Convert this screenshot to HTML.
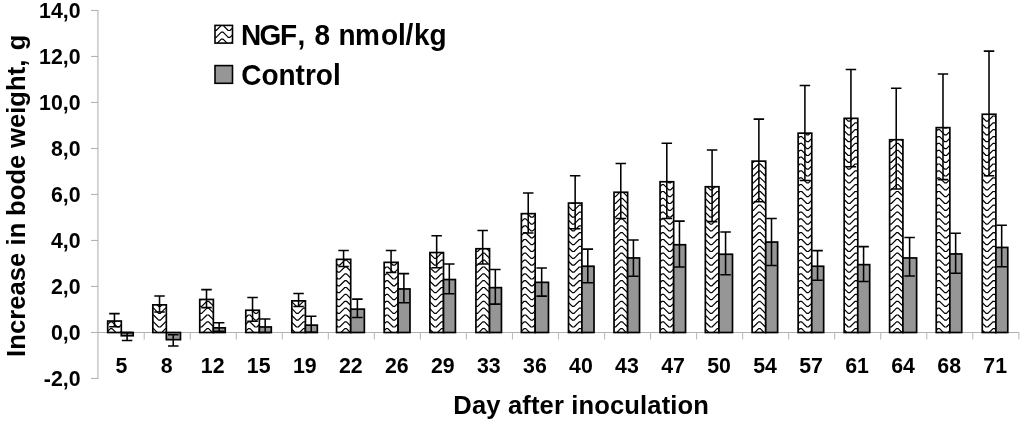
<!DOCTYPE html>
<html><head><meta charset="utf-8"><title>chart</title>
<style>html,body{margin:0;padding:0;background:#fff;}body{width:1024px;height:422px;overflow:hidden;}svg{display:block;will-change:transform;filter:blur(0.4px);}text{font-family:"Liberation Sans",sans-serif;font-weight:bold;fill:#000;}</style>
</head><body>
<svg width="1024" height="422" viewBox="0 0 1024 422">
<defs>
</defs>
<rect width="1024" height="422" fill="#fff"/>
<line x1="97.9" y1="9.9" x2="97.9" y2="378.9" stroke="#d2d2d2" stroke-width="1.9"/>
<g stroke="#b4b4b4" stroke-width="1.1" fill="none">
<line x1="91" y1="10.45" x2="98" y2="10.45"/>
<line x1="91" y1="56.45" x2="98" y2="56.45"/>
<line x1="91" y1="102.45" x2="98" y2="102.45"/>
<line x1="91" y1="148.45" x2="98" y2="148.45"/>
<line x1="91" y1="194.45" x2="98" y2="194.45"/>
<line x1="91" y1="240.45" x2="98" y2="240.45"/>
<line x1="91" y1="286.45" x2="98" y2="286.45"/>
<line x1="91" y1="332.45" x2="98" y2="332.45"/>
<line x1="91" y1="378.45" x2="98" y2="378.45"/>
<line x1="98" y1="332.45" x2="1019.2" y2="332.45" stroke="#b0b0b0"/>
<line x1="144.23" y1="332.50" x2="144.23" y2="339.50" stroke="#bcbcbc"/>
<line x1="190.26" y1="332.50" x2="190.26" y2="339.50" stroke="#bcbcbc"/>
<line x1="236.29" y1="332.50" x2="236.29" y2="339.50" stroke="#bcbcbc"/>
<line x1="282.32" y1="332.50" x2="282.32" y2="339.50" stroke="#bcbcbc"/>
<line x1="328.35" y1="332.50" x2="328.35" y2="339.50" stroke="#bcbcbc"/>
<line x1="374.38" y1="332.50" x2="374.38" y2="339.50" stroke="#bcbcbc"/>
<line x1="420.41" y1="332.50" x2="420.41" y2="339.50" stroke="#bcbcbc"/>
<line x1="466.44" y1="332.50" x2="466.44" y2="339.50" stroke="#bcbcbc"/>
<line x1="512.47" y1="332.50" x2="512.47" y2="339.50" stroke="#bcbcbc"/>
<line x1="558.50" y1="332.50" x2="558.50" y2="339.50" stroke="#bcbcbc"/>
<line x1="604.53" y1="332.50" x2="604.53" y2="339.50" stroke="#bcbcbc"/>
<line x1="650.56" y1="332.50" x2="650.56" y2="339.50" stroke="#bcbcbc"/>
<line x1="696.59" y1="332.50" x2="696.59" y2="339.50" stroke="#bcbcbc"/>
<line x1="742.62" y1="332.50" x2="742.62" y2="339.50" stroke="#bcbcbc"/>
<line x1="788.65" y1="332.50" x2="788.65" y2="339.50" stroke="#bcbcbc"/>
<line x1="834.68" y1="332.50" x2="834.68" y2="339.50" stroke="#bcbcbc"/>
<line x1="880.71" y1="332.50" x2="880.71" y2="339.50" stroke="#bcbcbc"/>
<line x1="926.74" y1="332.50" x2="926.74" y2="339.50" stroke="#bcbcbc"/>
<line x1="972.77" y1="332.50" x2="972.77" y2="339.50" stroke="#bcbcbc"/>
<line x1="1018.80" y1="332.50" x2="1018.80" y2="339.50" stroke="#bcbcbc"/>
</g>
<clipPath id="c1"><rect x="107.70" y="321.05" width="13.60" height="11.45"/></clipPath>
<path d="M96.6,315.0L98.3,315.0L103.5,320.1L105.2,320.1L110.4,315.0L112.1,315.0L117.3,320.1L119.0,320.1L124.2,315.0L125.9,315.0L131.1,320.1L132.8,320.1M96.6,321.9L98.3,321.9L103.5,327.0L105.2,327.0L110.4,321.9L112.1,321.9L117.3,327.0L119.0,327.0L124.2,321.9L125.9,321.9L131.1,327.0L132.8,327.0M96.6,328.7L98.3,328.7L103.5,333.9L105.2,333.9L110.4,328.7L112.1,328.7L117.3,333.9L119.0,333.9L124.2,328.7L125.9,328.7L131.1,333.9L132.8,333.9M96.6,335.6L98.3,335.6L103.5,340.7L105.2,340.7L110.4,335.6L112.1,335.6L117.3,340.7L119.0,340.7L124.2,335.6L125.9,335.6L131.1,340.7L132.8,340.7M96.6,342.4L98.3,342.4L103.5,347.6L105.2,347.6L110.4,342.4L112.1,342.4L117.3,347.6L119.0,347.6L124.2,342.4L125.9,342.4L131.1,347.6L132.8,347.6" clip-path="url(#c1)" fill="none" stroke="#000" stroke-width="1.2" stroke-linejoin="round"/>
<rect x="107.70" y="321.05" width="13.60" height="11.45" fill="none" stroke="#000" stroke-width="1.7"/>
<path d="M109.20,313.60H119.70M109.20,326.80H119.70M114.45,313.60V326.80" fill="none" stroke="#000" stroke-width="1.55"/>
<clipPath id="c2"><rect x="152.83" y="304.85" width="13.50" height="27.65"/></clipPath>
<path d="M139.7,294.4L144.8,299.6L146.6,299.6L151.7,294.4L153.5,294.4L158.6,299.6L160.4,299.6L165.5,294.4L167.3,294.4L172.4,299.6L174.2,299.6L179.3,294.4M139.7,301.3L144.8,306.4L146.6,306.4L151.7,301.3L153.5,301.3L158.6,306.4L160.4,306.4L165.5,301.3L167.3,301.3L172.4,306.4L174.2,306.4L179.3,301.3M139.7,308.1L144.8,313.3L146.6,313.3L151.7,308.1L153.5,308.1L158.6,313.3L160.4,313.3L165.5,308.1L167.3,308.1L172.4,313.3L174.2,313.3L179.3,308.1M139.7,315.0L144.8,320.1L146.6,320.1L151.7,315.0L153.5,315.0L158.6,320.1L160.4,320.1L165.5,315.0L167.3,315.0L172.4,320.1L174.2,320.1L179.3,315.0M139.7,321.9L144.8,327.0L146.6,327.0L151.7,321.9L153.5,321.9L158.6,327.0L160.4,327.0L165.5,321.9L167.3,321.9L172.4,327.0L174.2,327.0L179.3,321.9M139.7,328.7L144.8,333.9L146.6,333.9L151.7,328.7L153.5,328.7L158.6,333.9L160.4,333.9L165.5,328.7L167.3,328.7L172.4,333.9L174.2,333.9L179.3,328.7M139.7,335.6L144.8,340.7L146.6,340.7L151.7,335.6L153.5,335.6L158.6,340.7L160.4,340.7L165.5,335.6L167.3,335.6L172.4,340.7L174.2,340.7L179.3,335.6M139.7,342.4L144.8,347.6L146.6,347.6L151.7,342.4L153.5,342.4L158.6,347.6L160.4,347.6L165.5,342.4L167.3,342.4L172.4,347.6L174.2,347.6L179.3,342.4" clip-path="url(#c2)" fill="none" stroke="#000" stroke-width="1.2" stroke-linejoin="round"/>
<rect x="152.83" y="304.85" width="13.50" height="27.65" fill="none" stroke="#000" stroke-width="1.7"/>
<path d="M154.28,296.00H164.78M154.28,312.00H164.78M159.53,296.00V312.00" fill="none" stroke="#000" stroke-width="1.55"/>
<clipPath id="c3"><rect x="199.76" y="299.45" width="13.60" height="33.05"/></clipPath>
<path d="M186.2,292.7L187.9,292.7L193.1,287.5L194.8,287.5L200.0,292.7L201.7,292.7L206.9,287.5L208.6,287.5L213.8,292.7L215.5,292.7L220.7,287.5L222.4,287.5M186.2,299.6L187.9,299.6L193.1,294.4L194.8,294.4L200.0,299.6L201.7,299.6L206.9,294.4L208.6,294.4L213.8,299.6L215.5,299.6L220.7,294.4L222.4,294.4M186.2,306.4L187.9,306.4L193.1,301.3L194.8,301.3L200.0,306.4L201.7,306.4L206.9,301.3L208.6,301.3L213.8,306.4L215.5,306.4L220.7,301.3L222.4,301.3M186.2,313.3L187.9,313.3L193.1,308.1L194.8,308.1L200.0,313.3L201.7,313.3L206.9,308.1L208.6,308.1L213.8,313.3L215.5,313.3L220.7,308.1L222.4,308.1M186.2,320.1L187.9,320.1L193.1,315.0L194.8,315.0L200.0,320.1L201.7,320.1L206.9,315.0L208.6,315.0L213.8,320.1L215.5,320.1L220.7,315.0L222.4,315.0M186.2,327.0L187.9,327.0L193.1,321.9L194.8,321.9L200.0,327.0L201.7,327.0L206.9,321.9L208.6,321.9L213.8,327.0L215.5,327.0L220.7,321.9L222.4,321.9M186.2,333.9L187.9,333.9L193.1,328.7L194.8,328.7L200.0,333.9L201.7,333.9L206.9,328.7L208.6,328.7L213.8,333.9L215.5,333.9L220.7,328.7L222.4,328.7M186.2,340.7L187.9,340.7L193.1,335.6L194.8,335.6L200.0,340.7L201.7,340.7L206.9,335.6L208.6,335.6L213.8,340.7L215.5,340.7L220.7,335.6L222.4,335.6M186.2,347.6L187.9,347.6L193.1,342.4L194.8,342.4L200.0,347.6L201.7,347.6L206.9,342.4L208.6,342.4L213.8,347.6L215.5,347.6L220.7,342.4L222.4,342.4" clip-path="url(#c3)" fill="none" stroke="#000" stroke-width="1.2" stroke-linejoin="round"/>
<rect x="199.76" y="299.45" width="13.60" height="33.05" fill="none" stroke="#000" stroke-width="1.7"/>
<path d="M201.26,289.60H211.76M201.26,307.60H211.76M206.51,289.60V307.60" fill="none" stroke="#000" stroke-width="1.55"/>
<clipPath id="c4"><rect x="245.79" y="310.25" width="13.60" height="22.25"/></clipPath>
<path d="M234.5,301.3L236.2,301.3L241.4,306.4L243.1,306.4L248.3,301.3L250.0,301.3L255.2,306.4L256.9,306.4L262.1,301.3L263.8,301.3L269.0,306.4L270.7,306.4M234.5,308.1L236.2,308.1L241.4,313.3L243.1,313.3L248.3,308.1L250.0,308.1L255.2,313.3L256.9,313.3L262.1,308.1L263.8,308.1L269.0,313.3L270.7,313.3M234.5,315.0L236.2,315.0L241.4,320.1L243.1,320.1L248.3,315.0L250.0,315.0L255.2,320.1L256.9,320.1L262.1,315.0L263.8,315.0L269.0,320.1L270.7,320.1M234.5,321.9L236.2,321.9L241.4,327.0L243.1,327.0L248.3,321.9L250.0,321.9L255.2,327.0L256.9,327.0L262.1,321.9L263.8,321.9L269.0,327.0L270.7,327.0M234.5,328.7L236.2,328.7L241.4,333.9L243.1,333.9L248.3,328.7L250.0,328.7L255.2,333.9L256.9,333.9L262.1,328.7L263.8,328.7L269.0,333.9L270.7,333.9M234.5,335.6L236.2,335.6L241.4,340.7L243.1,340.7L248.3,335.6L250.0,335.6L255.2,340.7L256.9,340.7L262.1,335.6L263.8,335.6L269.0,340.7L270.7,340.7M234.5,342.4L236.2,342.4L241.4,347.6L243.1,347.6L248.3,342.4L250.0,342.4L255.2,347.6L256.9,347.6L262.1,342.4L263.8,342.4L269.0,347.6L270.7,347.6" clip-path="url(#c4)" fill="none" stroke="#000" stroke-width="1.2" stroke-linejoin="round"/>
<rect x="245.79" y="310.25" width="13.60" height="22.25" fill="none" stroke="#000" stroke-width="1.7"/>
<path d="M247.29,297.50H257.79M247.29,321.30H257.79M252.54,297.50V321.30" fill="none" stroke="#000" stroke-width="1.55"/>
<clipPath id="c5"><rect x="291.82" y="300.85" width="13.60" height="31.65"/></clipPath>
<path d="M282.8,299.6L284.5,299.6L289.7,294.4L291.4,294.4L296.5,299.6L298.3,299.6L303.4,294.4L305.2,294.4L310.3,299.6L312.1,299.6L317.2,294.4L319.0,294.4M282.8,306.4L284.5,306.4L289.7,301.3L291.4,301.3L296.5,306.4L298.3,306.4L303.4,301.3L305.2,301.3L310.3,306.4L312.1,306.4L317.2,301.3L319.0,301.3M282.8,313.3L284.5,313.3L289.7,308.1L291.4,308.1L296.5,313.3L298.3,313.3L303.4,308.1L305.2,308.1L310.3,313.3L312.1,313.3L317.2,308.1L319.0,308.1M282.8,320.1L284.5,320.1L289.7,315.0L291.4,315.0L296.5,320.1L298.3,320.1L303.4,315.0L305.2,315.0L310.3,320.1L312.1,320.1L317.2,315.0L319.0,315.0M282.8,327.0L284.5,327.0L289.7,321.9L291.4,321.9L296.5,327.0L298.3,327.0L303.4,321.9L305.2,321.9L310.3,327.0L312.1,327.0L317.2,321.9L319.0,321.9M282.8,333.9L284.5,333.9L289.7,328.7L291.4,328.7L296.5,333.9L298.3,333.9L303.4,328.7L305.2,328.7L310.3,333.9L312.1,333.9L317.2,328.7L319.0,328.7M282.8,340.7L284.5,340.7L289.7,335.6L291.4,335.6L296.5,340.7L298.3,340.7L303.4,335.6L305.2,335.6L310.3,340.7L312.1,340.7L317.2,335.6L319.0,335.6M282.8,347.6L284.5,347.6L289.7,342.4L291.4,342.4L296.5,347.6L298.3,347.6L303.4,342.4L305.2,342.4L310.3,347.6L312.1,347.6L317.2,342.4L319.0,342.4" clip-path="url(#c5)" fill="none" stroke="#000" stroke-width="1.2" stroke-linejoin="round"/>
<rect x="291.82" y="300.85" width="13.60" height="31.65" fill="none" stroke="#000" stroke-width="1.7"/>
<path d="M293.32,293.50H303.82M293.32,306.50H303.82M298.57,293.50V306.50" fill="none" stroke="#000" stroke-width="1.55"/>
<clipPath id="c6"><rect x="336.55" y="259.35" width="14.15" height="73.15"/></clipPath>
<path d="M324.1,258.4L325.9,258.4L331.0,253.2L332.8,253.2L337.9,258.4L339.6,258.4L344.8,253.2L346.5,253.2L351.7,258.4L353.4,258.4L358.6,253.2L360.3,253.2M324.1,265.2L325.9,265.2L331.0,260.1L332.8,260.1L337.9,265.2L339.6,265.2L344.8,260.1L346.5,260.1L351.7,265.2L353.4,265.2L358.6,260.1L360.3,260.1M324.1,272.1L325.9,272.1L331.0,267.0L332.8,267.0L337.9,272.1L339.6,272.1L344.8,267.0L346.5,267.0L351.7,272.1L353.4,272.1L358.6,267.0L360.3,267.0M324.1,279.0L325.9,279.0L331.0,273.8L332.8,273.8L337.9,279.0L339.6,279.0L344.8,273.8L346.5,273.8L351.7,279.0L353.4,279.0L358.6,273.8L360.3,273.8M324.1,285.8L325.9,285.8L331.0,280.7L332.8,280.7L337.9,285.8L339.6,285.8L344.8,280.7L346.5,280.7L351.7,285.8L353.4,285.8L358.6,280.7L360.3,280.7M324.1,292.7L325.9,292.7L331.0,287.5L332.8,287.5L337.9,292.7L339.6,292.7L344.8,287.5L346.5,287.5L351.7,292.7L353.4,292.7L358.6,287.5L360.3,287.5M324.1,299.6L325.9,299.6L331.0,294.4L332.8,294.4L337.9,299.6L339.6,299.6L344.8,294.4L346.5,294.4L351.7,299.6L353.4,299.6L358.6,294.4L360.3,294.4M324.1,306.4L325.9,306.4L331.0,301.3L332.8,301.3L337.9,306.4L339.6,306.4L344.8,301.3L346.5,301.3L351.7,306.4L353.4,306.4L358.6,301.3L360.3,301.3M324.1,313.3L325.9,313.3L331.0,308.1L332.8,308.1L337.9,313.3L339.6,313.3L344.8,308.1L346.5,308.1L351.7,313.3L353.4,313.3L358.6,308.1L360.3,308.1M324.1,320.1L325.9,320.1L331.0,315.0L332.8,315.0L337.9,320.1L339.6,320.1L344.8,315.0L346.5,315.0L351.7,320.1L353.4,320.1L358.6,315.0L360.3,315.0M324.1,327.0L325.9,327.0L331.0,321.9L332.8,321.9L337.9,327.0L339.6,327.0L344.8,321.9L346.5,321.9L351.7,327.0L353.4,327.0L358.6,321.9L360.3,321.9M324.1,333.9L325.9,333.9L331.0,328.7L332.8,328.7L337.9,333.9L339.6,333.9L344.8,328.7L346.5,328.7L351.7,333.9L353.4,333.9L358.6,328.7L360.3,328.7M324.1,340.7L325.9,340.7L331.0,335.6L332.8,335.6L337.9,340.7L339.6,340.7L344.8,335.6L346.5,335.6L351.7,340.7L353.4,340.7L358.6,335.6L360.3,335.6M324.1,347.6L325.9,347.6L331.0,342.4L332.8,342.4L337.9,347.6L339.6,347.6L344.8,342.4L346.5,342.4L351.7,347.6L353.4,347.6L358.6,342.4L360.3,342.4" clip-path="url(#c6)" fill="none" stroke="#000" stroke-width="1.2" stroke-linejoin="round"/>
<rect x="336.55" y="259.35" width="14.15" height="73.15" fill="none" stroke="#000" stroke-width="1.7"/>
<path d="M338.32,250.50H348.82M338.32,266.50H348.82M343.57,250.50V266.50" fill="none" stroke="#000" stroke-width="1.55"/>
<clipPath id="c7"><rect x="384.18" y="262.35" width="13.90" height="70.15"/></clipPath>
<path d="M372.4,253.2L374.1,253.2L379.3,258.4L381.0,258.4L386.2,253.2L387.9,253.2L393.1,258.4L394.8,258.4L400.0,253.2L401.7,253.2L406.9,258.4L408.6,258.4M372.4,260.1L374.1,260.1L379.3,265.2L381.0,265.2L386.2,260.1L387.9,260.1L393.1,265.2L394.8,265.2L400.0,260.1L401.7,260.1L406.9,265.2L408.6,265.2M372.4,267.0L374.1,267.0L379.3,272.1L381.0,272.1L386.2,267.0L387.9,267.0L393.1,272.1L394.8,272.1L400.0,267.0L401.7,267.0L406.9,272.1L408.6,272.1M372.4,273.8L374.1,273.8L379.3,279.0L381.0,279.0L386.2,273.8L387.9,273.8L393.1,279.0L394.8,279.0L400.0,273.8L401.7,273.8L406.9,279.0L408.6,279.0M372.4,280.7L374.1,280.7L379.3,285.8L381.0,285.8L386.2,280.7L387.9,280.7L393.1,285.8L394.8,285.8L400.0,280.7L401.7,280.7L406.9,285.8L408.6,285.8M372.4,287.5L374.1,287.5L379.3,292.7L381.0,292.7L386.2,287.5L387.9,287.5L393.1,292.7L394.8,292.7L400.0,287.5L401.7,287.5L406.9,292.7L408.6,292.7M372.4,294.4L374.1,294.4L379.3,299.6L381.0,299.6L386.2,294.4L387.9,294.4L393.1,299.6L394.8,299.6L400.0,294.4L401.7,294.4L406.9,299.6L408.6,299.6M372.4,301.3L374.1,301.3L379.3,306.4L381.0,306.4L386.2,301.3L387.9,301.3L393.1,306.4L394.8,306.4L400.0,301.3L401.7,301.3L406.9,306.4L408.6,306.4M372.4,308.1L374.1,308.1L379.3,313.3L381.0,313.3L386.2,308.1L387.9,308.1L393.1,313.3L394.8,313.3L400.0,308.1L401.7,308.1L406.9,313.3L408.6,313.3M372.4,315.0L374.1,315.0L379.3,320.1L381.0,320.1L386.2,315.0L387.9,315.0L393.1,320.1L394.8,320.1L400.0,315.0L401.7,315.0L406.9,320.1L408.6,320.1M372.4,321.9L374.1,321.9L379.3,327.0L381.0,327.0L386.2,321.9L387.9,321.9L393.1,327.0L394.8,327.0L400.0,321.9L401.7,321.9L406.9,327.0L408.6,327.0M372.4,328.7L374.1,328.7L379.3,333.9L381.0,333.9L386.2,328.7L387.9,328.7L393.1,333.9L394.8,333.9L400.0,328.7L401.7,328.7L406.9,333.9L408.6,333.9M372.4,335.6L374.1,335.6L379.3,340.7L381.0,340.7L386.2,335.6L387.9,335.6L393.1,340.7L394.8,340.7L400.0,335.6L401.7,335.6L406.9,340.7L408.6,340.7M372.4,342.4L374.1,342.4L379.3,347.6L381.0,347.6L386.2,342.4L387.9,342.4L393.1,347.6L394.8,347.6L400.0,342.4L401.7,342.4L406.9,347.6L408.6,347.6" clip-path="url(#c7)" fill="none" stroke="#000" stroke-width="1.2" stroke-linejoin="round"/>
<rect x="384.18" y="262.35" width="13.90" height="70.15" fill="none" stroke="#000" stroke-width="1.7"/>
<path d="M385.83,250.50H396.33M385.83,272.50H396.33M391.08,250.50V272.50" fill="none" stroke="#000" stroke-width="1.55"/>
<clipPath id="c8"><rect x="429.91" y="252.55" width="13.60" height="79.95"/></clipPath>
<path d="M420.7,251.5L422.4,251.5L427.6,246.4L429.3,246.4L434.5,251.5L436.2,251.5L441.4,246.4L443.1,246.4L448.3,251.5L450.0,251.5L455.1,246.4L456.9,246.4M420.7,258.4L422.4,258.4L427.6,253.2L429.3,253.2L434.5,258.4L436.2,258.4L441.4,253.2L443.1,253.2L448.3,258.4L450.0,258.4L455.1,253.2L456.9,253.2M420.7,265.2L422.4,265.2L427.6,260.1L429.3,260.1L434.5,265.2L436.2,265.2L441.4,260.1L443.1,260.1L448.3,265.2L450.0,265.2L455.1,260.1L456.9,260.1M420.7,272.1L422.4,272.1L427.6,267.0L429.3,267.0L434.5,272.1L436.2,272.1L441.4,267.0L443.1,267.0L448.3,272.1L450.0,272.1L455.1,267.0L456.9,267.0M420.7,279.0L422.4,279.0L427.6,273.8L429.3,273.8L434.5,279.0L436.2,279.0L441.4,273.8L443.1,273.8L448.3,279.0L450.0,279.0L455.1,273.8L456.9,273.8M420.7,285.8L422.4,285.8L427.6,280.7L429.3,280.7L434.5,285.8L436.2,285.8L441.4,280.7L443.1,280.7L448.3,285.8L450.0,285.8L455.1,280.7L456.9,280.7M420.7,292.7L422.4,292.7L427.6,287.5L429.3,287.5L434.5,292.7L436.2,292.7L441.4,287.5L443.1,287.5L448.3,292.7L450.0,292.7L455.1,287.5L456.9,287.5M420.7,299.6L422.4,299.6L427.6,294.4L429.3,294.4L434.5,299.6L436.2,299.6L441.4,294.4L443.1,294.4L448.3,299.6L450.0,299.6L455.1,294.4L456.9,294.4M420.7,306.4L422.4,306.4L427.6,301.3L429.3,301.3L434.5,306.4L436.2,306.4L441.4,301.3L443.1,301.3L448.3,306.4L450.0,306.4L455.1,301.3L456.9,301.3M420.7,313.3L422.4,313.3L427.6,308.1L429.3,308.1L434.5,313.3L436.2,313.3L441.4,308.1L443.1,308.1L448.3,313.3L450.0,313.3L455.1,308.1L456.9,308.1M420.7,320.1L422.4,320.1L427.6,315.0L429.3,315.0L434.5,320.1L436.2,320.1L441.4,315.0L443.1,315.0L448.3,320.1L450.0,320.1L455.1,315.0L456.9,315.0M420.7,327.0L422.4,327.0L427.6,321.9L429.3,321.9L434.5,327.0L436.2,327.0L441.4,321.9L443.1,321.9L448.3,327.0L450.0,327.0L455.1,321.9L456.9,321.9M420.7,333.9L422.4,333.9L427.6,328.7L429.3,328.7L434.5,333.9L436.2,333.9L441.4,328.7L443.1,328.7L448.3,333.9L450.0,333.9L455.1,328.7L456.9,328.7M420.7,340.7L422.4,340.7L427.6,335.6L429.3,335.6L434.5,340.7L436.2,340.7L441.4,335.6L443.1,335.6L448.3,340.7L450.0,340.7L455.1,335.6L456.9,335.6M420.7,347.6L422.4,347.6L427.6,342.4L429.3,342.4L434.5,347.6L436.2,347.6L441.4,342.4L443.1,342.4L448.3,347.6L450.0,347.6L455.1,342.4L456.9,342.4" clip-path="url(#c8)" fill="none" stroke="#000" stroke-width="1.2" stroke-linejoin="round"/>
<rect x="429.91" y="252.55" width="13.60" height="79.95" fill="none" stroke="#000" stroke-width="1.7"/>
<path d="M431.41,235.70H441.91M431.41,267.70H441.91M436.66,235.70V267.70" fill="none" stroke="#000" stroke-width="1.55"/>
<clipPath id="c9"><rect x="475.94" y="248.75" width="13.60" height="83.75"/></clipPath>
<path d="M463.8,244.7L468.9,239.5L470.7,239.5L475.8,244.7L477.6,244.7L482.7,239.5L484.5,239.5L489.6,244.7L491.3,244.7L496.5,239.5L498.2,239.5M463.8,251.5L468.9,246.4L470.7,246.4L475.8,251.5L477.6,251.5L482.7,246.4L484.5,246.4L489.6,251.5L491.3,251.5L496.5,246.4L498.2,246.4M463.8,258.4L468.9,253.2L470.7,253.2L475.8,258.4L477.6,258.4L482.7,253.2L484.5,253.2L489.6,258.4L491.3,258.4L496.5,253.2L498.2,253.2M463.8,265.2L468.9,260.1L470.7,260.1L475.8,265.2L477.6,265.2L482.7,260.1L484.5,260.1L489.6,265.2L491.3,265.2L496.5,260.1L498.2,260.1M463.8,272.1L468.9,267.0L470.7,267.0L475.8,272.1L477.6,272.1L482.7,267.0L484.5,267.0L489.6,272.1L491.3,272.1L496.5,267.0L498.2,267.0M463.8,279.0L468.9,273.8L470.7,273.8L475.8,279.0L477.6,279.0L482.7,273.8L484.5,273.8L489.6,279.0L491.3,279.0L496.5,273.8L498.2,273.8M463.8,285.8L468.9,280.7L470.7,280.7L475.8,285.8L477.6,285.8L482.7,280.7L484.5,280.7L489.6,285.8L491.3,285.8L496.5,280.7L498.2,280.7M463.8,292.7L468.9,287.5L470.7,287.5L475.8,292.7L477.6,292.7L482.7,287.5L484.5,287.5L489.6,292.7L491.3,292.7L496.5,287.5L498.2,287.5M463.8,299.6L468.9,294.4L470.7,294.4L475.8,299.6L477.6,299.6L482.7,294.4L484.5,294.4L489.6,299.6L491.3,299.6L496.5,294.4L498.2,294.4M463.8,306.4L468.9,301.3L470.7,301.3L475.8,306.4L477.6,306.4L482.7,301.3L484.5,301.3L489.6,306.4L491.3,306.4L496.5,301.3L498.2,301.3M463.8,313.3L468.9,308.1L470.7,308.1L475.8,313.3L477.6,313.3L482.7,308.1L484.5,308.1L489.6,313.3L491.3,313.3L496.5,308.1L498.2,308.1M463.8,320.1L468.9,315.0L470.7,315.0L475.8,320.1L477.6,320.1L482.7,315.0L484.5,315.0L489.6,320.1L491.3,320.1L496.5,315.0L498.2,315.0M463.8,327.0L468.9,321.9L470.7,321.9L475.8,327.0L477.6,327.0L482.7,321.9L484.5,321.9L489.6,327.0L491.3,327.0L496.5,321.9L498.2,321.9M463.8,333.9L468.9,328.7L470.7,328.7L475.8,333.9L477.6,333.9L482.7,328.7L484.5,328.7L489.6,333.9L491.3,333.9L496.5,328.7L498.2,328.7M463.8,340.7L468.9,335.6L470.7,335.6L475.8,340.7L477.6,340.7L482.7,335.6L484.5,335.6L489.6,340.7L491.3,340.7L496.5,335.6L498.2,335.6M463.8,347.6L468.9,342.4L470.7,342.4L475.8,347.6L477.6,347.6L482.7,342.4L484.5,342.4L489.6,347.6L491.3,347.6L496.5,342.4L498.2,342.4" clip-path="url(#c9)" fill="none" stroke="#000" stroke-width="1.2" stroke-linejoin="round"/>
<rect x="475.94" y="248.75" width="13.60" height="83.75" fill="none" stroke="#000" stroke-width="1.7"/>
<path d="M477.44,230.40H487.94M477.44,264.00H487.94M482.69,230.40V264.00" fill="none" stroke="#000" stroke-width="1.55"/>
<clipPath id="c10"><rect x="521.37" y="213.65" width="13.80" height="118.85"/></clipPath>
<path d="M510.3,205.2L512.0,205.2L517.2,210.4L518.9,210.4L524.1,205.2L525.8,205.2L531.0,210.4L532.7,210.4L537.9,205.2L539.6,205.2L544.8,210.4L546.5,210.4M510.3,212.1L512.0,212.1L517.2,217.2L518.9,217.2L524.1,212.1L525.8,212.1L531.0,217.2L532.7,217.2L537.9,212.1L539.6,212.1L544.8,217.2L546.5,217.2M510.3,218.9L512.0,218.9L517.2,224.1L518.9,224.1L524.1,218.9L525.8,218.9L531.0,224.1L532.7,224.1L537.9,218.9L539.6,218.9L544.8,224.1L546.5,224.1M510.3,225.8L512.0,225.8L517.2,230.9L518.9,230.9L524.1,225.8L525.8,225.8L531.0,230.9L532.7,230.9L537.9,225.8L539.6,225.8L544.8,230.9L546.5,230.9M510.3,232.7L512.0,232.7L517.2,237.8L518.9,237.8L524.1,232.7L525.8,232.7L531.0,237.8L532.7,237.8L537.9,232.7L539.6,232.7L544.8,237.8L546.5,237.8M510.3,239.5L512.0,239.5L517.2,244.7L518.9,244.7L524.1,239.5L525.8,239.5L531.0,244.7L532.7,244.7L537.9,239.5L539.6,239.5L544.8,244.7L546.5,244.7M510.3,246.4L512.0,246.4L517.2,251.5L518.9,251.5L524.1,246.4L525.8,246.4L531.0,251.5L532.7,251.5L537.9,246.4L539.6,246.4L544.8,251.5L546.5,251.5M510.3,253.2L512.0,253.2L517.2,258.4L518.9,258.4L524.1,253.2L525.8,253.2L531.0,258.4L532.7,258.4L537.9,253.2L539.6,253.2L544.8,258.4L546.5,258.4M510.3,260.1L512.0,260.1L517.2,265.2L518.9,265.2L524.1,260.1L525.8,260.1L531.0,265.2L532.7,265.2L537.9,260.1L539.6,260.1L544.8,265.2L546.5,265.2M510.3,267.0L512.0,267.0L517.2,272.1L518.9,272.1L524.1,267.0L525.8,267.0L531.0,272.1L532.7,272.1L537.9,267.0L539.6,267.0L544.8,272.1L546.5,272.1M510.3,273.8L512.0,273.8L517.2,279.0L518.9,279.0L524.1,273.8L525.8,273.8L531.0,279.0L532.7,279.0L537.9,273.8L539.6,273.8L544.8,279.0L546.5,279.0M510.3,280.7L512.0,280.7L517.2,285.8L518.9,285.8L524.1,280.7L525.8,280.7L531.0,285.8L532.7,285.8L537.9,280.7L539.6,280.7L544.8,285.8L546.5,285.8M510.3,287.5L512.0,287.5L517.2,292.7L518.9,292.7L524.1,287.5L525.8,287.5L531.0,292.7L532.7,292.7L537.9,287.5L539.6,287.5L544.8,292.7L546.5,292.7M510.3,294.4L512.0,294.4L517.2,299.6L518.9,299.6L524.1,294.4L525.8,294.4L531.0,299.6L532.7,299.6L537.9,294.4L539.6,294.4L544.8,299.6L546.5,299.6M510.3,301.3L512.0,301.3L517.2,306.4L518.9,306.4L524.1,301.3L525.8,301.3L531.0,306.4L532.7,306.4L537.9,301.3L539.6,301.3L544.8,306.4L546.5,306.4M510.3,308.1L512.0,308.1L517.2,313.3L518.9,313.3L524.1,308.1L525.8,308.1L531.0,313.3L532.7,313.3L537.9,308.1L539.6,308.1L544.8,313.3L546.5,313.3M510.3,315.0L512.0,315.0L517.2,320.1L518.9,320.1L524.1,315.0L525.8,315.0L531.0,320.1L532.7,320.1L537.9,315.0L539.6,315.0L544.8,320.1L546.5,320.1M510.3,321.9L512.0,321.9L517.2,327.0L518.9,327.0L524.1,321.9L525.8,321.9L531.0,327.0L532.7,327.0L537.9,321.9L539.6,321.9L544.8,327.0L546.5,327.0M510.3,328.7L512.0,328.7L517.2,333.9L518.9,333.9L524.1,328.7L525.8,328.7L531.0,333.9L532.7,333.9L537.9,328.7L539.6,328.7L544.8,333.9L546.5,333.9M510.3,335.6L512.0,335.6L517.2,340.7L518.9,340.7L524.1,335.6L525.8,335.6L531.0,340.7L532.7,340.7L537.9,335.6L539.6,335.6L544.8,340.7L546.5,340.7M510.3,342.4L512.0,342.4L517.2,347.6L518.9,347.6L524.1,342.4L525.8,342.4L531.0,347.6L532.7,347.6L537.9,342.4L539.6,342.4L544.8,347.6L546.5,347.6" clip-path="url(#c10)" fill="none" stroke="#000" stroke-width="1.2" stroke-linejoin="round"/>
<rect x="521.37" y="213.65" width="13.80" height="118.85" fill="none" stroke="#000" stroke-width="1.7"/>
<path d="M522.97,192.90H533.47M522.97,233.00H533.47M528.22,192.90V233.00" fill="none" stroke="#000" stroke-width="1.55"/>
<clipPath id="c11"><rect x="568.50" y="203.05" width="13.40" height="129.45"/></clipPath>
<path d="M558.6,196.6L560.3,196.6L565.5,191.5L567.2,191.5L572.4,196.6L574.1,196.6L579.3,191.5L581.0,191.5L586.2,196.6L587.9,196.6L593.1,191.5L594.8,191.5M558.6,203.5L560.3,203.5L565.5,198.3L567.2,198.3L572.4,203.5L574.1,203.5L579.3,198.3L581.0,198.3L586.2,203.5L587.9,203.5L593.1,198.3L594.8,198.3M558.6,210.4L560.3,210.4L565.5,205.2L567.2,205.2L572.4,210.4L574.1,210.4L579.3,205.2L581.0,205.2L586.2,210.4L587.9,210.4L593.1,205.2L594.8,205.2M558.6,217.2L560.3,217.2L565.5,212.1L567.2,212.1L572.4,217.2L574.1,217.2L579.3,212.1L581.0,212.1L586.2,217.2L587.9,217.2L593.1,212.1L594.8,212.1M558.6,224.1L560.3,224.1L565.5,218.9L567.2,218.9L572.4,224.1L574.1,224.1L579.3,218.9L581.0,218.9L586.2,224.1L587.9,224.1L593.1,218.9L594.8,218.9M558.6,230.9L560.3,230.9L565.5,225.8L567.2,225.8L572.4,230.9L574.1,230.9L579.3,225.8L581.0,225.8L586.2,230.9L587.9,230.9L593.1,225.8L594.8,225.8M558.6,237.8L560.3,237.8L565.5,232.7L567.2,232.7L572.4,237.8L574.1,237.8L579.3,232.7L581.0,232.7L586.2,237.8L587.9,237.8L593.1,232.7L594.8,232.7M558.6,244.7L560.3,244.7L565.5,239.5L567.2,239.5L572.4,244.7L574.1,244.7L579.3,239.5L581.0,239.5L586.2,244.7L587.9,244.7L593.1,239.5L594.8,239.5M558.6,251.5L560.3,251.5L565.5,246.4L567.2,246.4L572.4,251.5L574.1,251.5L579.3,246.4L581.0,246.4L586.2,251.5L587.9,251.5L593.1,246.4L594.8,246.4M558.6,258.4L560.3,258.4L565.5,253.2L567.2,253.2L572.4,258.4L574.1,258.4L579.3,253.2L581.0,253.2L586.2,258.4L587.9,258.4L593.1,253.2L594.8,253.2M558.6,265.2L560.3,265.2L565.5,260.1L567.2,260.1L572.4,265.2L574.1,265.2L579.3,260.1L581.0,260.1L586.2,265.2L587.9,265.2L593.1,260.1L594.8,260.1M558.6,272.1L560.3,272.1L565.5,267.0L567.2,267.0L572.4,272.1L574.1,272.1L579.3,267.0L581.0,267.0L586.2,272.1L587.9,272.1L593.1,267.0L594.8,267.0M558.6,279.0L560.3,279.0L565.5,273.8L567.2,273.8L572.4,279.0L574.1,279.0L579.3,273.8L581.0,273.8L586.2,279.0L587.9,279.0L593.1,273.8L594.8,273.8M558.6,285.8L560.3,285.8L565.5,280.7L567.2,280.7L572.4,285.8L574.1,285.8L579.3,280.7L581.0,280.7L586.2,285.8L587.9,285.8L593.1,280.7L594.8,280.7M558.6,292.7L560.3,292.7L565.5,287.5L567.2,287.5L572.4,292.7L574.1,292.7L579.3,287.5L581.0,287.5L586.2,292.7L587.9,292.7L593.1,287.5L594.8,287.5M558.6,299.6L560.3,299.6L565.5,294.4L567.2,294.4L572.4,299.6L574.1,299.6L579.3,294.4L581.0,294.4L586.2,299.6L587.9,299.6L593.1,294.4L594.8,294.4M558.6,306.4L560.3,306.4L565.5,301.3L567.2,301.3L572.4,306.4L574.1,306.4L579.3,301.3L581.0,301.3L586.2,306.4L587.9,306.4L593.1,301.3L594.8,301.3M558.6,313.3L560.3,313.3L565.5,308.1L567.2,308.1L572.4,313.3L574.1,313.3L579.3,308.1L581.0,308.1L586.2,313.3L587.9,313.3L593.1,308.1L594.8,308.1M558.6,320.1L560.3,320.1L565.5,315.0L567.2,315.0L572.4,320.1L574.1,320.1L579.3,315.0L581.0,315.0L586.2,320.1L587.9,320.1L593.1,315.0L594.8,315.0M558.6,327.0L560.3,327.0L565.5,321.9L567.2,321.9L572.4,327.0L574.1,327.0L579.3,321.9L581.0,321.9L586.2,327.0L587.9,327.0L593.1,321.9L594.8,321.9M558.6,333.9L560.3,333.9L565.5,328.7L567.2,328.7L572.4,333.9L574.1,333.9L579.3,328.7L581.0,328.7L586.2,333.9L587.9,333.9L593.1,328.7L594.8,328.7M558.6,340.7L560.3,340.7L565.5,335.6L567.2,335.6L572.4,340.7L574.1,340.7L579.3,335.6L581.0,335.6L586.2,340.7L587.9,340.7L593.1,335.6L594.8,335.6M558.6,347.6L560.3,347.6L565.5,342.4L567.2,342.4L572.4,347.6L574.1,347.6L579.3,342.4L581.0,342.4L586.2,347.6L587.9,347.6L593.1,342.4L594.8,342.4" clip-path="url(#c11)" fill="none" stroke="#000" stroke-width="1.2" stroke-linejoin="round"/>
<rect x="568.50" y="203.05" width="13.40" height="129.45" fill="none" stroke="#000" stroke-width="1.7"/>
<path d="M569.90,175.70H580.40M569.90,228.70H580.40M575.15,175.70V228.70" fill="none" stroke="#000" stroke-width="1.55"/>
<clipPath id="c12"><rect x="614.03" y="192.25" width="13.60" height="140.25"/></clipPath>
<path d="M601.7,189.8L606.9,184.6L608.6,184.6L613.7,189.8L615.5,189.8L620.6,184.6L622.4,184.6L627.5,189.8L629.3,189.8L634.4,184.6L636.2,184.6L641.3,189.8M601.7,196.6L606.9,191.5L608.6,191.5L613.7,196.6L615.5,196.6L620.6,191.5L622.4,191.5L627.5,196.6L629.3,196.6L634.4,191.5L636.2,191.5L641.3,196.6M601.7,203.5L606.9,198.3L608.6,198.3L613.7,203.5L615.5,203.5L620.6,198.3L622.4,198.3L627.5,203.5L629.3,203.5L634.4,198.3L636.2,198.3L641.3,203.5M601.7,210.4L606.9,205.2L608.6,205.2L613.7,210.4L615.5,210.4L620.6,205.2L622.4,205.2L627.5,210.4L629.3,210.4L634.4,205.2L636.2,205.2L641.3,210.4M601.7,217.2L606.9,212.1L608.6,212.1L613.7,217.2L615.5,217.2L620.6,212.1L622.4,212.1L627.5,217.2L629.3,217.2L634.4,212.1L636.2,212.1L641.3,217.2M601.7,224.1L606.9,218.9L608.6,218.9L613.7,224.1L615.5,224.1L620.6,218.9L622.4,218.9L627.5,224.1L629.3,224.1L634.4,218.9L636.2,218.9L641.3,224.1M601.7,230.9L606.9,225.8L608.6,225.8L613.7,230.9L615.5,230.9L620.6,225.8L622.4,225.8L627.5,230.9L629.3,230.9L634.4,225.8L636.2,225.8L641.3,230.9M601.7,237.8L606.9,232.7L608.6,232.7L613.7,237.8L615.5,237.8L620.6,232.7L622.4,232.7L627.5,237.8L629.3,237.8L634.4,232.7L636.2,232.7L641.3,237.8M601.7,244.7L606.9,239.5L608.6,239.5L613.7,244.7L615.5,244.7L620.6,239.5L622.4,239.5L627.5,244.7L629.3,244.7L634.4,239.5L636.2,239.5L641.3,244.7M601.7,251.5L606.9,246.4L608.6,246.4L613.7,251.5L615.5,251.5L620.6,246.4L622.4,246.4L627.5,251.5L629.3,251.5L634.4,246.4L636.2,246.4L641.3,251.5M601.7,258.4L606.9,253.2L608.6,253.2L613.7,258.4L615.5,258.4L620.6,253.2L622.4,253.2L627.5,258.4L629.3,258.4L634.4,253.2L636.2,253.2L641.3,258.4M601.7,265.2L606.9,260.1L608.6,260.1L613.7,265.2L615.5,265.2L620.6,260.1L622.4,260.1L627.5,265.2L629.3,265.2L634.4,260.1L636.2,260.1L641.3,265.2M601.7,272.1L606.9,267.0L608.6,267.0L613.7,272.1L615.5,272.1L620.6,267.0L622.4,267.0L627.5,272.1L629.3,272.1L634.4,267.0L636.2,267.0L641.3,272.1M601.7,279.0L606.9,273.8L608.6,273.8L613.7,279.0L615.5,279.0L620.6,273.8L622.4,273.8L627.5,279.0L629.3,279.0L634.4,273.8L636.2,273.8L641.3,279.0M601.7,285.8L606.9,280.7L608.6,280.7L613.7,285.8L615.5,285.8L620.6,280.7L622.4,280.7L627.5,285.8L629.3,285.8L634.4,280.7L636.2,280.7L641.3,285.8M601.7,292.7L606.9,287.5L608.6,287.5L613.7,292.7L615.5,292.7L620.6,287.5L622.4,287.5L627.5,292.7L629.3,292.7L634.4,287.5L636.2,287.5L641.3,292.7M601.7,299.6L606.9,294.4L608.6,294.4L613.7,299.6L615.5,299.6L620.6,294.4L622.4,294.4L627.5,299.6L629.3,299.6L634.4,294.4L636.2,294.4L641.3,299.6M601.7,306.4L606.9,301.3L608.6,301.3L613.7,306.4L615.5,306.4L620.6,301.3L622.4,301.3L627.5,306.4L629.3,306.4L634.4,301.3L636.2,301.3L641.3,306.4M601.7,313.3L606.9,308.1L608.6,308.1L613.7,313.3L615.5,313.3L620.6,308.1L622.4,308.1L627.5,313.3L629.3,313.3L634.4,308.1L636.2,308.1L641.3,313.3M601.7,320.1L606.9,315.0L608.6,315.0L613.7,320.1L615.5,320.1L620.6,315.0L622.4,315.0L627.5,320.1L629.3,320.1L634.4,315.0L636.2,315.0L641.3,320.1M601.7,327.0L606.9,321.9L608.6,321.9L613.7,327.0L615.5,327.0L620.6,321.9L622.4,321.9L627.5,327.0L629.3,327.0L634.4,321.9L636.2,321.9L641.3,327.0M601.7,333.9L606.9,328.7L608.6,328.7L613.7,333.9L615.5,333.9L620.6,328.7L622.4,328.7L627.5,333.9L629.3,333.9L634.4,328.7L636.2,328.7L641.3,333.9M601.7,340.7L606.9,335.6L608.6,335.6L613.7,340.7L615.5,340.7L620.6,335.6L622.4,335.6L627.5,340.7L629.3,340.7L634.4,335.6L636.2,335.6L641.3,340.7M601.7,347.6L606.9,342.4L608.6,342.4L613.7,347.6L615.5,347.6L620.6,342.4L622.4,342.4L627.5,347.6L629.3,347.6L634.4,342.4L636.2,342.4L641.3,347.6" clip-path="url(#c12)" fill="none" stroke="#000" stroke-width="1.2" stroke-linejoin="round"/>
<rect x="614.03" y="192.25" width="13.60" height="140.25" fill="none" stroke="#000" stroke-width="1.7"/>
<path d="M615.53,163.50H626.03M615.53,218.50H626.03M620.78,163.50V218.50" fill="none" stroke="#000" stroke-width="1.55"/>
<clipPath id="c13"><rect x="660.06" y="181.75" width="13.60" height="150.75"/></clipPath>
<path d="M648.2,170.9L649.9,170.9L655.1,176.0L656.8,176.0L662.0,170.9L663.7,170.9L668.9,176.0L670.6,176.0L675.8,170.9L677.5,170.9L682.7,176.0L684.4,176.0M648.2,177.8L649.9,177.8L655.1,182.9L656.8,182.9L662.0,177.8L663.7,177.8L668.9,182.9L670.6,182.9L675.8,177.8L677.5,177.8L682.7,182.9L684.4,182.9M648.2,184.6L649.9,184.6L655.1,189.8L656.8,189.8L662.0,184.6L663.7,184.6L668.9,189.8L670.6,189.8L675.8,184.6L677.5,184.6L682.7,189.8L684.4,189.8M648.2,191.5L649.9,191.5L655.1,196.6L656.8,196.6L662.0,191.5L663.7,191.5L668.9,196.6L670.6,196.6L675.8,191.5L677.5,191.5L682.7,196.6L684.4,196.6M648.2,198.3L649.9,198.3L655.1,203.5L656.8,203.5L662.0,198.3L663.7,198.3L668.9,203.5L670.6,203.5L675.8,198.3L677.5,198.3L682.7,203.5L684.4,203.5M648.2,205.2L649.9,205.2L655.1,210.4L656.8,210.4L662.0,205.2L663.7,205.2L668.9,210.4L670.6,210.4L675.8,205.2L677.5,205.2L682.7,210.4L684.4,210.4M648.2,212.1L649.9,212.1L655.1,217.2L656.8,217.2L662.0,212.1L663.7,212.1L668.9,217.2L670.6,217.2L675.8,212.1L677.5,212.1L682.7,217.2L684.4,217.2M648.2,218.9L649.9,218.9L655.1,224.1L656.8,224.1L662.0,218.9L663.7,218.9L668.9,224.1L670.6,224.1L675.8,218.9L677.5,218.9L682.7,224.1L684.4,224.1M648.2,225.8L649.9,225.8L655.1,230.9L656.8,230.9L662.0,225.8L663.7,225.8L668.9,230.9L670.6,230.9L675.8,225.8L677.5,225.8L682.7,230.9L684.4,230.9M648.2,232.7L649.9,232.7L655.1,237.8L656.8,237.8L662.0,232.7L663.7,232.7L668.9,237.8L670.6,237.8L675.8,232.7L677.5,232.7L682.7,237.8L684.4,237.8M648.2,239.5L649.9,239.5L655.1,244.7L656.8,244.7L662.0,239.5L663.7,239.5L668.9,244.7L670.6,244.7L675.8,239.5L677.5,239.5L682.7,244.7L684.4,244.7M648.2,246.4L649.9,246.4L655.1,251.5L656.8,251.5L662.0,246.4L663.7,246.4L668.9,251.5L670.6,251.5L675.8,246.4L677.5,246.4L682.7,251.5L684.4,251.5M648.2,253.2L649.9,253.2L655.1,258.4L656.8,258.4L662.0,253.2L663.7,253.2L668.9,258.4L670.6,258.4L675.8,253.2L677.5,253.2L682.7,258.4L684.4,258.4M648.2,260.1L649.9,260.1L655.1,265.2L656.8,265.2L662.0,260.1L663.7,260.1L668.9,265.2L670.6,265.2L675.8,260.1L677.5,260.1L682.7,265.2L684.4,265.2M648.2,267.0L649.9,267.0L655.1,272.1L656.8,272.1L662.0,267.0L663.7,267.0L668.9,272.1L670.6,272.1L675.8,267.0L677.5,267.0L682.7,272.1L684.4,272.1M648.2,273.8L649.9,273.8L655.1,279.0L656.8,279.0L662.0,273.8L663.7,273.8L668.9,279.0L670.6,279.0L675.8,273.8L677.5,273.8L682.7,279.0L684.4,279.0M648.2,280.7L649.9,280.7L655.1,285.8L656.8,285.8L662.0,280.7L663.7,280.7L668.9,285.8L670.6,285.8L675.8,280.7L677.5,280.7L682.7,285.8L684.4,285.8M648.2,287.5L649.9,287.5L655.1,292.7L656.8,292.7L662.0,287.5L663.7,287.5L668.9,292.7L670.6,292.7L675.8,287.5L677.5,287.5L682.7,292.7L684.4,292.7M648.2,294.4L649.9,294.4L655.1,299.6L656.8,299.6L662.0,294.4L663.7,294.4L668.9,299.6L670.6,299.6L675.8,294.4L677.5,294.4L682.7,299.6L684.4,299.6M648.2,301.3L649.9,301.3L655.1,306.4L656.8,306.4L662.0,301.3L663.7,301.3L668.9,306.4L670.6,306.4L675.8,301.3L677.5,301.3L682.7,306.4L684.4,306.4M648.2,308.1L649.9,308.1L655.1,313.3L656.8,313.3L662.0,308.1L663.7,308.1L668.9,313.3L670.6,313.3L675.8,308.1L677.5,308.1L682.7,313.3L684.4,313.3M648.2,315.0L649.9,315.0L655.1,320.1L656.8,320.1L662.0,315.0L663.7,315.0L668.9,320.1L670.6,320.1L675.8,315.0L677.5,315.0L682.7,320.1L684.4,320.1M648.2,321.9L649.9,321.9L655.1,327.0L656.8,327.0L662.0,321.9L663.7,321.9L668.9,327.0L670.6,327.0L675.8,321.9L677.5,321.9L682.7,327.0L684.4,327.0M648.2,328.7L649.9,328.7L655.1,333.9L656.8,333.9L662.0,328.7L663.7,328.7L668.9,333.9L670.6,333.9L675.8,328.7L677.5,328.7L682.7,333.9L684.4,333.9M648.2,335.6L649.9,335.6L655.1,340.7L656.8,340.7L662.0,335.6L663.7,335.6L668.9,340.7L670.6,340.7L675.8,335.6L677.5,335.6L682.7,340.7L684.4,340.7M648.2,342.4L649.9,342.4L655.1,347.6L656.8,347.6L662.0,342.4L663.7,342.4L668.9,347.6L670.6,347.6L675.8,342.4L677.5,342.4L682.7,347.6L684.4,347.6" clip-path="url(#c13)" fill="none" stroke="#000" stroke-width="1.2" stroke-linejoin="round"/>
<rect x="660.06" y="181.75" width="13.60" height="150.75" fill="none" stroke="#000" stroke-width="1.7"/>
<path d="M661.56,143.30H672.06M661.56,218.50H672.06M666.81,143.30V218.50" fill="none" stroke="#000" stroke-width="1.55"/>
<clipPath id="c14"><rect x="705.34" y="186.75" width="13.60" height="145.75"/></clipPath>
<path d="M696.5,182.9L698.2,182.9L703.4,177.8L705.1,177.8L710.3,182.9L712.0,182.9L717.2,177.8L718.9,177.8L724.1,182.9L725.8,182.9L731.0,177.8L732.7,177.8M696.5,189.8L698.2,189.8L703.4,184.6L705.1,184.6L710.3,189.8L712.0,189.8L717.2,184.6L718.9,184.6L724.1,189.8L725.8,189.8L731.0,184.6L732.7,184.6M696.5,196.6L698.2,196.6L703.4,191.5L705.1,191.5L710.3,196.6L712.0,196.6L717.2,191.5L718.9,191.5L724.1,196.6L725.8,196.6L731.0,191.5L732.7,191.5M696.5,203.5L698.2,203.5L703.4,198.3L705.1,198.3L710.3,203.5L712.0,203.5L717.2,198.3L718.9,198.3L724.1,203.5L725.8,203.5L731.0,198.3L732.7,198.3M696.5,210.4L698.2,210.4L703.4,205.2L705.1,205.2L710.3,210.4L712.0,210.4L717.2,205.2L718.9,205.2L724.1,210.4L725.8,210.4L731.0,205.2L732.7,205.2M696.5,217.2L698.2,217.2L703.4,212.1L705.1,212.1L710.3,217.2L712.0,217.2L717.2,212.1L718.9,212.1L724.1,217.2L725.8,217.2L731.0,212.1L732.7,212.1M696.5,224.1L698.2,224.1L703.4,218.9L705.1,218.9L710.3,224.1L712.0,224.1L717.2,218.9L718.9,218.9L724.1,224.1L725.8,224.1L731.0,218.9L732.7,218.9M696.5,230.9L698.2,230.9L703.4,225.8L705.1,225.8L710.3,230.9L712.0,230.9L717.2,225.8L718.9,225.8L724.1,230.9L725.8,230.9L731.0,225.8L732.7,225.8M696.5,237.8L698.2,237.8L703.4,232.7L705.1,232.7L710.3,237.8L712.0,237.8L717.2,232.7L718.9,232.7L724.1,237.8L725.8,237.8L731.0,232.7L732.7,232.7M696.5,244.7L698.2,244.7L703.4,239.5L705.1,239.5L710.3,244.7L712.0,244.7L717.2,239.5L718.9,239.5L724.1,244.7L725.8,244.7L731.0,239.5L732.7,239.5M696.5,251.5L698.2,251.5L703.4,246.4L705.1,246.4L710.3,251.5L712.0,251.5L717.2,246.4L718.9,246.4L724.1,251.5L725.8,251.5L731.0,246.4L732.7,246.4M696.5,258.4L698.2,258.4L703.4,253.2L705.1,253.2L710.3,258.4L712.0,258.4L717.2,253.2L718.9,253.2L724.1,258.4L725.8,258.4L731.0,253.2L732.7,253.2M696.5,265.2L698.2,265.2L703.4,260.1L705.1,260.1L710.3,265.2L712.0,265.2L717.2,260.1L718.9,260.1L724.1,265.2L725.8,265.2L731.0,260.1L732.7,260.1M696.5,272.1L698.2,272.1L703.4,267.0L705.1,267.0L710.3,272.1L712.0,272.1L717.2,267.0L718.9,267.0L724.1,272.1L725.8,272.1L731.0,267.0L732.7,267.0M696.5,279.0L698.2,279.0L703.4,273.8L705.1,273.8L710.3,279.0L712.0,279.0L717.2,273.8L718.9,273.8L724.1,279.0L725.8,279.0L731.0,273.8L732.7,273.8M696.5,285.8L698.2,285.8L703.4,280.7L705.1,280.7L710.3,285.8L712.0,285.8L717.2,280.7L718.9,280.7L724.1,285.8L725.8,285.8L731.0,280.7L732.7,280.7M696.5,292.7L698.2,292.7L703.4,287.5L705.1,287.5L710.3,292.7L712.0,292.7L717.2,287.5L718.9,287.5L724.1,292.7L725.8,292.7L731.0,287.5L732.7,287.5M696.5,299.6L698.2,299.6L703.4,294.4L705.1,294.4L710.3,299.6L712.0,299.6L717.2,294.4L718.9,294.4L724.1,299.6L725.8,299.6L731.0,294.4L732.7,294.4M696.5,306.4L698.2,306.4L703.4,301.3L705.1,301.3L710.3,306.4L712.0,306.4L717.2,301.3L718.9,301.3L724.1,306.4L725.8,306.4L731.0,301.3L732.7,301.3M696.5,313.3L698.2,313.3L703.4,308.1L705.1,308.1L710.3,313.3L712.0,313.3L717.2,308.1L718.9,308.1L724.1,313.3L725.8,313.3L731.0,308.1L732.7,308.1M696.5,320.1L698.2,320.1L703.4,315.0L705.1,315.0L710.3,320.1L712.0,320.1L717.2,315.0L718.9,315.0L724.1,320.1L725.8,320.1L731.0,315.0L732.7,315.0M696.5,327.0L698.2,327.0L703.4,321.9L705.1,321.9L710.3,327.0L712.0,327.0L717.2,321.9L718.9,321.9L724.1,327.0L725.8,327.0L731.0,321.9L732.7,321.9M696.5,333.9L698.2,333.9L703.4,328.7L705.1,328.7L710.3,333.9L712.0,333.9L717.2,328.7L718.9,328.7L724.1,333.9L725.8,333.9L731.0,328.7L732.7,328.7M696.5,340.7L698.2,340.7L703.4,335.6L705.1,335.6L710.3,340.7L712.0,340.7L717.2,335.6L718.9,335.6L724.1,340.7L725.8,340.7L731.0,335.6L732.7,335.6M696.5,347.6L698.2,347.6L703.4,342.4L705.1,342.4L710.3,347.6L712.0,347.6L717.2,342.4L718.9,342.4L724.1,347.6L725.8,347.6L731.0,342.4L732.7,342.4" clip-path="url(#c14)" fill="none" stroke="#000" stroke-width="1.2" stroke-linejoin="round"/>
<rect x="705.34" y="186.75" width="13.60" height="145.75" fill="none" stroke="#000" stroke-width="1.7"/>
<path d="M706.84,150.00H717.34M706.84,221.60H717.34M712.09,150.00V221.60" fill="none" stroke="#000" stroke-width="1.55"/>
<clipPath id="c15"><rect x="752.12" y="161.15" width="13.60" height="171.35"/></clipPath>
<path d="M739.6,155.5L744.8,150.3L746.5,150.3L751.7,155.5L753.4,155.5L758.6,150.3L760.3,150.3L765.4,155.5L767.2,155.5L772.3,150.3L774.1,150.3L779.2,155.5M739.6,162.3L744.8,157.2L746.5,157.2L751.7,162.3L753.4,162.3L758.6,157.2L760.3,157.2L765.4,162.3L767.2,162.3L772.3,157.2L774.1,157.2L779.2,162.3M739.6,169.2L744.8,164.0L746.5,164.0L751.7,169.2L753.4,169.2L758.6,164.0L760.3,164.0L765.4,169.2L767.2,169.2L772.3,164.0L774.1,164.0L779.2,169.2M739.6,176.0L744.8,170.9L746.5,170.9L751.7,176.0L753.4,176.0L758.6,170.9L760.3,170.9L765.4,176.0L767.2,176.0L772.3,170.9L774.1,170.9L779.2,176.0M739.6,182.9L744.8,177.8L746.5,177.8L751.7,182.9L753.4,182.9L758.6,177.8L760.3,177.8L765.4,182.9L767.2,182.9L772.3,177.8L774.1,177.8L779.2,182.9M739.6,189.8L744.8,184.6L746.5,184.6L751.7,189.8L753.4,189.8L758.6,184.6L760.3,184.6L765.4,189.8L767.2,189.8L772.3,184.6L774.1,184.6L779.2,189.8M739.6,196.6L744.8,191.5L746.5,191.5L751.7,196.6L753.4,196.6L758.6,191.5L760.3,191.5L765.4,196.6L767.2,196.6L772.3,191.5L774.1,191.5L779.2,196.6M739.6,203.5L744.8,198.3L746.5,198.3L751.7,203.5L753.4,203.5L758.6,198.3L760.3,198.3L765.4,203.5L767.2,203.5L772.3,198.3L774.1,198.3L779.2,203.5M739.6,210.4L744.8,205.2L746.5,205.2L751.7,210.4L753.4,210.4L758.6,205.2L760.3,205.2L765.4,210.4L767.2,210.4L772.3,205.2L774.1,205.2L779.2,210.4M739.6,217.2L744.8,212.1L746.5,212.1L751.7,217.2L753.4,217.2L758.6,212.1L760.3,212.1L765.4,217.2L767.2,217.2L772.3,212.1L774.1,212.1L779.2,217.2M739.6,224.1L744.8,218.9L746.5,218.9L751.7,224.1L753.4,224.1L758.6,218.9L760.3,218.9L765.4,224.1L767.2,224.1L772.3,218.9L774.1,218.9L779.2,224.1M739.6,230.9L744.8,225.8L746.5,225.8L751.7,230.9L753.4,230.9L758.6,225.8L760.3,225.8L765.4,230.9L767.2,230.9L772.3,225.8L774.1,225.8L779.2,230.9M739.6,237.8L744.8,232.7L746.5,232.7L751.7,237.8L753.4,237.8L758.6,232.7L760.3,232.7L765.4,237.8L767.2,237.8L772.3,232.7L774.1,232.7L779.2,237.8M739.6,244.7L744.8,239.5L746.5,239.5L751.7,244.7L753.4,244.7L758.6,239.5L760.3,239.5L765.4,244.7L767.2,244.7L772.3,239.5L774.1,239.5L779.2,244.7M739.6,251.5L744.8,246.4L746.5,246.4L751.7,251.5L753.4,251.5L758.6,246.4L760.3,246.4L765.4,251.5L767.2,251.5L772.3,246.4L774.1,246.4L779.2,251.5M739.6,258.4L744.8,253.2L746.5,253.2L751.7,258.4L753.4,258.4L758.6,253.2L760.3,253.2L765.4,258.4L767.2,258.4L772.3,253.2L774.1,253.2L779.2,258.4M739.6,265.2L744.8,260.1L746.5,260.1L751.7,265.2L753.4,265.2L758.6,260.1L760.3,260.1L765.4,265.2L767.2,265.2L772.3,260.1L774.1,260.1L779.2,265.2M739.6,272.1L744.8,267.0L746.5,267.0L751.7,272.1L753.4,272.1L758.6,267.0L760.3,267.0L765.4,272.1L767.2,272.1L772.3,267.0L774.1,267.0L779.2,272.1M739.6,279.0L744.8,273.8L746.5,273.8L751.7,279.0L753.4,279.0L758.6,273.8L760.3,273.8L765.4,279.0L767.2,279.0L772.3,273.8L774.1,273.8L779.2,279.0M739.6,285.8L744.8,280.7L746.5,280.7L751.7,285.8L753.4,285.8L758.6,280.7L760.3,280.7L765.4,285.8L767.2,285.8L772.3,280.7L774.1,280.7L779.2,285.8M739.6,292.7L744.8,287.5L746.5,287.5L751.7,292.7L753.4,292.7L758.6,287.5L760.3,287.5L765.4,292.7L767.2,292.7L772.3,287.5L774.1,287.5L779.2,292.7M739.6,299.6L744.8,294.4L746.5,294.4L751.7,299.6L753.4,299.6L758.6,294.4L760.3,294.4L765.4,299.6L767.2,299.6L772.3,294.4L774.1,294.4L779.2,299.6M739.6,306.4L744.8,301.3L746.5,301.3L751.7,306.4L753.4,306.4L758.6,301.3L760.3,301.3L765.4,306.4L767.2,306.4L772.3,301.3L774.1,301.3L779.2,306.4M739.6,313.3L744.8,308.1L746.5,308.1L751.7,313.3L753.4,313.3L758.6,308.1L760.3,308.1L765.4,313.3L767.2,313.3L772.3,308.1L774.1,308.1L779.2,313.3M739.6,320.1L744.8,315.0L746.5,315.0L751.7,320.1L753.4,320.1L758.6,315.0L760.3,315.0L765.4,320.1L767.2,320.1L772.3,315.0L774.1,315.0L779.2,320.1M739.6,327.0L744.8,321.9L746.5,321.9L751.7,327.0L753.4,327.0L758.6,321.9L760.3,321.9L765.4,327.0L767.2,327.0L772.3,321.9L774.1,321.9L779.2,327.0M739.6,333.9L744.8,328.7L746.5,328.7L751.7,333.9L753.4,333.9L758.6,328.7L760.3,328.7L765.4,333.9L767.2,333.9L772.3,328.7L774.1,328.7L779.2,333.9M739.6,340.7L744.8,335.6L746.5,335.6L751.7,340.7L753.4,340.7L758.6,335.6L760.3,335.6L765.4,340.7L767.2,340.7L772.3,335.6L774.1,335.6L779.2,340.7M739.6,347.6L744.8,342.4L746.5,342.4L751.7,347.6L753.4,347.6L758.6,342.4L760.3,342.4L765.4,347.6L767.2,347.6L772.3,342.4L774.1,342.4L779.2,347.6" clip-path="url(#c15)" fill="none" stroke="#000" stroke-width="1.2" stroke-linejoin="round"/>
<rect x="752.12" y="161.15" width="13.60" height="171.35" fill="none" stroke="#000" stroke-width="1.7"/>
<path d="M753.62,119.10H764.12M753.62,201.80H764.12M758.87,119.10V201.80" fill="none" stroke="#000" stroke-width="1.55"/>
<clipPath id="c16"><rect x="798.15" y="133.15" width="13.60" height="199.35"/></clipPath>
<path d="M786.1,122.9L787.9,122.9L793.0,128.0L794.8,128.0L799.9,122.9L801.7,122.9L806.8,128.0L808.5,128.0L813.7,122.9L815.4,122.9L820.6,128.0L822.3,128.0M786.1,129.7L787.9,129.7L793.0,134.9L794.8,134.9L799.9,129.7L801.7,129.7L806.8,134.9L808.5,134.9L813.7,129.7L815.4,129.7L820.6,134.9L822.3,134.9M786.1,136.6L787.9,136.6L793.0,141.7L794.8,141.7L799.9,136.6L801.7,136.6L806.8,141.7L808.5,141.7L813.7,136.6L815.4,136.6L820.6,141.7L822.3,141.7M786.1,143.4L787.9,143.4L793.0,148.6L794.8,148.6L799.9,143.4L801.7,143.4L806.8,148.6L808.5,148.6L813.7,143.4L815.4,143.4L820.6,148.6L822.3,148.6M786.1,150.3L787.9,150.3L793.0,155.5L794.8,155.5L799.9,150.3L801.7,150.3L806.8,155.5L808.5,155.5L813.7,150.3L815.4,150.3L820.6,155.5L822.3,155.5M786.1,157.2L787.9,157.2L793.0,162.3L794.8,162.3L799.9,157.2L801.7,157.2L806.8,162.3L808.5,162.3L813.7,157.2L815.4,157.2L820.6,162.3L822.3,162.3M786.1,164.0L787.9,164.0L793.0,169.2L794.8,169.2L799.9,164.0L801.7,164.0L806.8,169.2L808.5,169.2L813.7,164.0L815.4,164.0L820.6,169.2L822.3,169.2M786.1,170.9L787.9,170.9L793.0,176.0L794.8,176.0L799.9,170.9L801.7,170.9L806.8,176.0L808.5,176.0L813.7,170.9L815.4,170.9L820.6,176.0L822.3,176.0M786.1,177.8L787.9,177.8L793.0,182.9L794.8,182.9L799.9,177.8L801.7,177.8L806.8,182.9L808.5,182.9L813.7,177.8L815.4,177.8L820.6,182.9L822.3,182.9M786.1,184.6L787.9,184.6L793.0,189.8L794.8,189.8L799.9,184.6L801.7,184.6L806.8,189.8L808.5,189.8L813.7,184.6L815.4,184.6L820.6,189.8L822.3,189.8M786.1,191.5L787.9,191.5L793.0,196.6L794.8,196.6L799.9,191.5L801.7,191.5L806.8,196.6L808.5,196.6L813.7,191.5L815.4,191.5L820.6,196.6L822.3,196.6M786.1,198.3L787.9,198.3L793.0,203.5L794.8,203.5L799.9,198.3L801.7,198.3L806.8,203.5L808.5,203.5L813.7,198.3L815.4,198.3L820.6,203.5L822.3,203.5M786.1,205.2L787.9,205.2L793.0,210.4L794.8,210.4L799.9,205.2L801.7,205.2L806.8,210.4L808.5,210.4L813.7,205.2L815.4,205.2L820.6,210.4L822.3,210.4M786.1,212.1L787.9,212.1L793.0,217.2L794.8,217.2L799.9,212.1L801.7,212.1L806.8,217.2L808.5,217.2L813.7,212.1L815.4,212.1L820.6,217.2L822.3,217.2M786.1,218.9L787.9,218.9L793.0,224.1L794.8,224.1L799.9,218.9L801.7,218.9L806.8,224.1L808.5,224.1L813.7,218.9L815.4,218.9L820.6,224.1L822.3,224.1M786.1,225.8L787.9,225.8L793.0,230.9L794.8,230.9L799.9,225.8L801.7,225.8L806.8,230.9L808.5,230.9L813.7,225.8L815.4,225.8L820.6,230.9L822.3,230.9M786.1,232.7L787.9,232.7L793.0,237.8L794.8,237.8L799.9,232.7L801.7,232.7L806.8,237.8L808.5,237.8L813.7,232.7L815.4,232.7L820.6,237.8L822.3,237.8M786.1,239.5L787.9,239.5L793.0,244.7L794.8,244.7L799.9,239.5L801.7,239.5L806.8,244.7L808.5,244.7L813.7,239.5L815.4,239.5L820.6,244.7L822.3,244.7M786.1,246.4L787.9,246.4L793.0,251.5L794.8,251.5L799.9,246.4L801.7,246.4L806.8,251.5L808.5,251.5L813.7,246.4L815.4,246.4L820.6,251.5L822.3,251.5M786.1,253.2L787.9,253.2L793.0,258.4L794.8,258.4L799.9,253.2L801.7,253.2L806.8,258.4L808.5,258.4L813.7,253.2L815.4,253.2L820.6,258.4L822.3,258.4M786.1,260.1L787.9,260.1L793.0,265.2L794.8,265.2L799.9,260.1L801.7,260.1L806.8,265.2L808.5,265.2L813.7,260.1L815.4,260.1L820.6,265.2L822.3,265.2M786.1,267.0L787.9,267.0L793.0,272.1L794.8,272.1L799.9,267.0L801.7,267.0L806.8,272.1L808.5,272.1L813.7,267.0L815.4,267.0L820.6,272.1L822.3,272.1M786.1,273.8L787.9,273.8L793.0,279.0L794.8,279.0L799.9,273.8L801.7,273.8L806.8,279.0L808.5,279.0L813.7,273.8L815.4,273.8L820.6,279.0L822.3,279.0M786.1,280.7L787.9,280.7L793.0,285.8L794.8,285.8L799.9,280.7L801.7,280.7L806.8,285.8L808.5,285.8L813.7,280.7L815.4,280.7L820.6,285.8L822.3,285.8M786.1,287.5L787.9,287.5L793.0,292.7L794.8,292.7L799.9,287.5L801.7,287.5L806.8,292.7L808.5,292.7L813.7,287.5L815.4,287.5L820.6,292.7L822.3,292.7M786.1,294.4L787.9,294.4L793.0,299.6L794.8,299.6L799.9,294.4L801.7,294.4L806.8,299.6L808.5,299.6L813.7,294.4L815.4,294.4L820.6,299.6L822.3,299.6M786.1,301.3L787.9,301.3L793.0,306.4L794.8,306.4L799.9,301.3L801.7,301.3L806.8,306.4L808.5,306.4L813.7,301.3L815.4,301.3L820.6,306.4L822.3,306.4M786.1,308.1L787.9,308.1L793.0,313.3L794.8,313.3L799.9,308.1L801.7,308.1L806.8,313.3L808.5,313.3L813.7,308.1L815.4,308.1L820.6,313.3L822.3,313.3M786.1,315.0L787.9,315.0L793.0,320.1L794.8,320.1L799.9,315.0L801.7,315.0L806.8,320.1L808.5,320.1L813.7,315.0L815.4,315.0L820.6,320.1L822.3,320.1M786.1,321.9L787.9,321.9L793.0,327.0L794.8,327.0L799.9,321.9L801.7,321.9L806.8,327.0L808.5,327.0L813.7,321.9L815.4,321.9L820.6,327.0L822.3,327.0M786.1,328.7L787.9,328.7L793.0,333.9L794.8,333.9L799.9,328.7L801.7,328.7L806.8,333.9L808.5,333.9L813.7,328.7L815.4,328.7L820.6,333.9L822.3,333.9M786.1,335.6L787.9,335.6L793.0,340.7L794.8,340.7L799.9,335.6L801.7,335.6L806.8,340.7L808.5,340.7L813.7,335.6L815.4,335.6L820.6,340.7L822.3,340.7M786.1,342.4L787.9,342.4L793.0,347.6L794.8,347.6L799.9,342.4L801.7,342.4L806.8,347.6L808.5,347.6L813.7,342.4L815.4,342.4L820.6,347.6L822.3,347.6" clip-path="url(#c16)" fill="none" stroke="#000" stroke-width="1.2" stroke-linejoin="round"/>
<rect x="798.15" y="133.15" width="13.60" height="199.35" fill="none" stroke="#000" stroke-width="1.7"/>
<path d="M799.65,85.50H810.15M799.65,180.50H810.15M804.90,85.50V180.50" fill="none" stroke="#000" stroke-width="1.55"/>
<clipPath id="c17"><rect x="844.18" y="118.35" width="13.60" height="214.15"/></clipPath>
<path d="M834.4,114.3L836.1,114.3L841.3,109.1L843.0,109.1L848.2,114.3L849.9,114.3L855.1,109.1L856.8,109.1L862.0,114.3L863.7,114.3L868.9,109.1L870.6,109.1M834.4,121.1L836.1,121.1L841.3,116.0L843.0,116.0L848.2,121.1L849.9,121.1L855.1,116.0L856.8,116.0L862.0,121.1L863.7,121.1L868.9,116.0L870.6,116.0M834.4,128.0L836.1,128.0L841.3,122.9L843.0,122.9L848.2,128.0L849.9,128.0L855.1,122.9L856.8,122.9L862.0,128.0L863.7,128.0L868.9,122.9L870.6,122.9M834.4,134.9L836.1,134.9L841.3,129.7L843.0,129.7L848.2,134.9L849.9,134.9L855.1,129.7L856.8,129.7L862.0,134.9L863.7,134.9L868.9,129.7L870.6,129.7M834.4,141.7L836.1,141.7L841.3,136.6L843.0,136.6L848.2,141.7L849.9,141.7L855.1,136.6L856.8,136.6L862.0,141.7L863.7,141.7L868.9,136.6L870.6,136.6M834.4,148.6L836.1,148.6L841.3,143.4L843.0,143.4L848.2,148.6L849.9,148.6L855.1,143.4L856.8,143.4L862.0,148.6L863.7,148.6L868.9,143.4L870.6,143.4M834.4,155.5L836.1,155.5L841.3,150.3L843.0,150.3L848.2,155.5L849.9,155.5L855.1,150.3L856.8,150.3L862.0,155.5L863.7,155.5L868.9,150.3L870.6,150.3M834.4,162.3L836.1,162.3L841.3,157.2L843.0,157.2L848.2,162.3L849.9,162.3L855.1,157.2L856.8,157.2L862.0,162.3L863.7,162.3L868.9,157.2L870.6,157.2M834.4,169.2L836.1,169.2L841.3,164.0L843.0,164.0L848.2,169.2L849.9,169.2L855.1,164.0L856.8,164.0L862.0,169.2L863.7,169.2L868.9,164.0L870.6,164.0M834.4,176.0L836.1,176.0L841.3,170.9L843.0,170.9L848.2,176.0L849.9,176.0L855.1,170.9L856.8,170.9L862.0,176.0L863.7,176.0L868.9,170.9L870.6,170.9M834.4,182.9L836.1,182.9L841.3,177.8L843.0,177.8L848.2,182.9L849.9,182.9L855.1,177.8L856.8,177.8L862.0,182.9L863.7,182.9L868.9,177.8L870.6,177.8M834.4,189.8L836.1,189.8L841.3,184.6L843.0,184.6L848.2,189.8L849.9,189.8L855.1,184.6L856.8,184.6L862.0,189.8L863.7,189.8L868.9,184.6L870.6,184.6M834.4,196.6L836.1,196.6L841.3,191.5L843.0,191.5L848.2,196.6L849.9,196.6L855.1,191.5L856.8,191.5L862.0,196.6L863.7,196.6L868.9,191.5L870.6,191.5M834.4,203.5L836.1,203.5L841.3,198.3L843.0,198.3L848.2,203.5L849.9,203.5L855.1,198.3L856.8,198.3L862.0,203.5L863.7,203.5L868.9,198.3L870.6,198.3M834.4,210.4L836.1,210.4L841.3,205.2L843.0,205.2L848.2,210.4L849.9,210.4L855.1,205.2L856.8,205.2L862.0,210.4L863.7,210.4L868.9,205.2L870.6,205.2M834.4,217.2L836.1,217.2L841.3,212.1L843.0,212.1L848.2,217.2L849.9,217.2L855.1,212.1L856.8,212.1L862.0,217.2L863.7,217.2L868.9,212.1L870.6,212.1M834.4,224.1L836.1,224.1L841.3,218.9L843.0,218.9L848.2,224.1L849.9,224.1L855.1,218.9L856.8,218.9L862.0,224.1L863.7,224.1L868.9,218.9L870.6,218.9M834.4,230.9L836.1,230.9L841.3,225.8L843.0,225.8L848.2,230.9L849.9,230.9L855.1,225.8L856.8,225.8L862.0,230.9L863.7,230.9L868.9,225.8L870.6,225.8M834.4,237.8L836.1,237.8L841.3,232.7L843.0,232.7L848.2,237.8L849.9,237.8L855.1,232.7L856.8,232.7L862.0,237.8L863.7,237.8L868.9,232.7L870.6,232.7M834.4,244.7L836.1,244.7L841.3,239.5L843.0,239.5L848.2,244.7L849.9,244.7L855.1,239.5L856.8,239.5L862.0,244.7L863.7,244.7L868.9,239.5L870.6,239.5M834.4,251.5L836.1,251.5L841.3,246.4L843.0,246.4L848.2,251.5L849.9,251.5L855.1,246.4L856.8,246.4L862.0,251.5L863.7,251.5L868.9,246.4L870.6,246.4M834.4,258.4L836.1,258.4L841.3,253.2L843.0,253.2L848.2,258.4L849.9,258.4L855.1,253.2L856.8,253.2L862.0,258.4L863.7,258.4L868.9,253.2L870.6,253.2M834.4,265.2L836.1,265.2L841.3,260.1L843.0,260.1L848.2,265.2L849.9,265.2L855.1,260.1L856.8,260.1L862.0,265.2L863.7,265.2L868.9,260.1L870.6,260.1M834.4,272.1L836.1,272.1L841.3,267.0L843.0,267.0L848.2,272.1L849.9,272.1L855.1,267.0L856.8,267.0L862.0,272.1L863.7,272.1L868.9,267.0L870.6,267.0M834.4,279.0L836.1,279.0L841.3,273.8L843.0,273.8L848.2,279.0L849.9,279.0L855.1,273.8L856.8,273.8L862.0,279.0L863.7,279.0L868.9,273.8L870.6,273.8M834.4,285.8L836.1,285.8L841.3,280.7L843.0,280.7L848.2,285.8L849.9,285.8L855.1,280.7L856.8,280.7L862.0,285.8L863.7,285.8L868.9,280.7L870.6,280.7M834.4,292.7L836.1,292.7L841.3,287.5L843.0,287.5L848.2,292.7L849.9,292.7L855.1,287.5L856.8,287.5L862.0,292.7L863.7,292.7L868.9,287.5L870.6,287.5M834.4,299.6L836.1,299.6L841.3,294.4L843.0,294.4L848.2,299.6L849.9,299.6L855.1,294.4L856.8,294.4L862.0,299.6L863.7,299.6L868.9,294.4L870.6,294.4M834.4,306.4L836.1,306.4L841.3,301.3L843.0,301.3L848.2,306.4L849.9,306.4L855.1,301.3L856.8,301.3L862.0,306.4L863.7,306.4L868.9,301.3L870.6,301.3M834.4,313.3L836.1,313.3L841.3,308.1L843.0,308.1L848.2,313.3L849.9,313.3L855.1,308.1L856.8,308.1L862.0,313.3L863.7,313.3L868.9,308.1L870.6,308.1M834.4,320.1L836.1,320.1L841.3,315.0L843.0,315.0L848.2,320.1L849.9,320.1L855.1,315.0L856.8,315.0L862.0,320.1L863.7,320.1L868.9,315.0L870.6,315.0M834.4,327.0L836.1,327.0L841.3,321.9L843.0,321.9L848.2,327.0L849.9,327.0L855.1,321.9L856.8,321.9L862.0,327.0L863.7,327.0L868.9,321.9L870.6,321.9M834.4,333.9L836.1,333.9L841.3,328.7L843.0,328.7L848.2,333.9L849.9,333.9L855.1,328.7L856.8,328.7L862.0,333.9L863.7,333.9L868.9,328.7L870.6,328.7M834.4,340.7L836.1,340.7L841.3,335.6L843.0,335.6L848.2,340.7L849.9,340.7L855.1,335.6L856.8,335.6L862.0,340.7L863.7,340.7L868.9,335.6L870.6,335.6M834.4,347.6L836.1,347.6L841.3,342.4L843.0,342.4L848.2,347.6L849.9,347.6L855.1,342.4L856.8,342.4L862.0,347.6L863.7,347.6L868.9,342.4L870.6,342.4" clip-path="url(#c17)" fill="none" stroke="#000" stroke-width="1.2" stroke-linejoin="round"/>
<rect x="844.18" y="118.35" width="13.60" height="214.15" fill="none" stroke="#000" stroke-width="1.7"/>
<path d="M845.68,69.40H856.18M845.68,166.80H856.18M850.93,69.40V166.80" fill="none" stroke="#000" stroke-width="1.55"/>
<clipPath id="c18"><rect x="889.61" y="139.75" width="13.30" height="192.75"/></clipPath>
<path d="M877.5,134.9L882.7,129.7L884.4,129.7L889.6,134.9L891.3,134.9L896.5,129.7L898.2,129.7L903.4,134.9L905.1,134.9L910.3,129.7L912.0,129.7M877.5,141.7L882.7,136.6L884.4,136.6L889.6,141.7L891.3,141.7L896.5,136.6L898.2,136.6L903.4,141.7L905.1,141.7L910.3,136.6L912.0,136.6M877.5,148.6L882.7,143.4L884.4,143.4L889.6,148.6L891.3,148.6L896.5,143.4L898.2,143.4L903.4,148.6L905.1,148.6L910.3,143.4L912.0,143.4M877.5,155.5L882.7,150.3L884.4,150.3L889.6,155.5L891.3,155.5L896.5,150.3L898.2,150.3L903.4,155.5L905.1,155.5L910.3,150.3L912.0,150.3M877.5,162.3L882.7,157.2L884.4,157.2L889.6,162.3L891.3,162.3L896.5,157.2L898.2,157.2L903.4,162.3L905.1,162.3L910.3,157.2L912.0,157.2M877.5,169.2L882.7,164.0L884.4,164.0L889.6,169.2L891.3,169.2L896.5,164.0L898.2,164.0L903.4,169.2L905.1,169.2L910.3,164.0L912.0,164.0M877.5,176.0L882.7,170.9L884.4,170.9L889.6,176.0L891.3,176.0L896.5,170.9L898.2,170.9L903.4,176.0L905.1,176.0L910.3,170.9L912.0,170.9M877.5,182.9L882.7,177.8L884.4,177.8L889.6,182.9L891.3,182.9L896.5,177.8L898.2,177.8L903.4,182.9L905.1,182.9L910.3,177.8L912.0,177.8M877.5,189.8L882.7,184.6L884.4,184.6L889.6,189.8L891.3,189.8L896.5,184.6L898.2,184.6L903.4,189.8L905.1,189.8L910.3,184.6L912.0,184.6M877.5,196.6L882.7,191.5L884.4,191.5L889.6,196.6L891.3,196.6L896.5,191.5L898.2,191.5L903.4,196.6L905.1,196.6L910.3,191.5L912.0,191.5M877.5,203.5L882.7,198.3L884.4,198.3L889.6,203.5L891.3,203.5L896.5,198.3L898.2,198.3L903.4,203.5L905.1,203.5L910.3,198.3L912.0,198.3M877.5,210.4L882.7,205.2L884.4,205.2L889.6,210.4L891.3,210.4L896.5,205.2L898.2,205.2L903.4,210.4L905.1,210.4L910.3,205.2L912.0,205.2M877.5,217.2L882.7,212.1L884.4,212.1L889.6,217.2L891.3,217.2L896.5,212.1L898.2,212.1L903.4,217.2L905.1,217.2L910.3,212.1L912.0,212.1M877.5,224.1L882.7,218.9L884.4,218.9L889.6,224.1L891.3,224.1L896.5,218.9L898.2,218.9L903.4,224.1L905.1,224.1L910.3,218.9L912.0,218.9M877.5,230.9L882.7,225.8L884.4,225.8L889.6,230.9L891.3,230.9L896.5,225.8L898.2,225.8L903.4,230.9L905.1,230.9L910.3,225.8L912.0,225.8M877.5,237.8L882.7,232.7L884.4,232.7L889.6,237.8L891.3,237.8L896.5,232.7L898.2,232.7L903.4,237.8L905.1,237.8L910.3,232.7L912.0,232.7M877.5,244.7L882.7,239.5L884.4,239.5L889.6,244.7L891.3,244.7L896.5,239.5L898.2,239.5L903.4,244.7L905.1,244.7L910.3,239.5L912.0,239.5M877.5,251.5L882.7,246.4L884.4,246.4L889.6,251.5L891.3,251.5L896.5,246.4L898.2,246.4L903.4,251.5L905.1,251.5L910.3,246.4L912.0,246.4M877.5,258.4L882.7,253.2L884.4,253.2L889.6,258.4L891.3,258.4L896.5,253.2L898.2,253.2L903.4,258.4L905.1,258.4L910.3,253.2L912.0,253.2M877.5,265.2L882.7,260.1L884.4,260.1L889.6,265.2L891.3,265.2L896.5,260.1L898.2,260.1L903.4,265.2L905.1,265.2L910.3,260.1L912.0,260.1M877.5,272.1L882.7,267.0L884.4,267.0L889.6,272.1L891.3,272.1L896.5,267.0L898.2,267.0L903.4,272.1L905.1,272.1L910.3,267.0L912.0,267.0M877.5,279.0L882.7,273.8L884.4,273.8L889.6,279.0L891.3,279.0L896.5,273.8L898.2,273.8L903.4,279.0L905.1,279.0L910.3,273.8L912.0,273.8M877.5,285.8L882.7,280.7L884.4,280.7L889.6,285.8L891.3,285.8L896.5,280.7L898.2,280.7L903.4,285.8L905.1,285.8L910.3,280.7L912.0,280.7M877.5,292.7L882.7,287.5L884.4,287.5L889.6,292.7L891.3,292.7L896.5,287.5L898.2,287.5L903.4,292.7L905.1,292.7L910.3,287.5L912.0,287.5M877.5,299.6L882.7,294.4L884.4,294.4L889.6,299.6L891.3,299.6L896.5,294.4L898.2,294.4L903.4,299.6L905.1,299.6L910.3,294.4L912.0,294.4M877.5,306.4L882.7,301.3L884.4,301.3L889.6,306.4L891.3,306.4L896.5,301.3L898.2,301.3L903.4,306.4L905.1,306.4L910.3,301.3L912.0,301.3M877.5,313.3L882.7,308.1L884.4,308.1L889.6,313.3L891.3,313.3L896.5,308.1L898.2,308.1L903.4,313.3L905.1,313.3L910.3,308.1L912.0,308.1M877.5,320.1L882.7,315.0L884.4,315.0L889.6,320.1L891.3,320.1L896.5,315.0L898.2,315.0L903.4,320.1L905.1,320.1L910.3,315.0L912.0,315.0M877.5,327.0L882.7,321.9L884.4,321.9L889.6,327.0L891.3,327.0L896.5,321.9L898.2,321.9L903.4,327.0L905.1,327.0L910.3,321.9L912.0,321.9M877.5,333.9L882.7,328.7L884.4,328.7L889.6,333.9L891.3,333.9L896.5,328.7L898.2,328.7L903.4,333.9L905.1,333.9L910.3,328.7L912.0,328.7M877.5,340.7L882.7,335.6L884.4,335.6L889.6,340.7L891.3,340.7L896.5,335.6L898.2,335.6L903.4,340.7L905.1,340.7L910.3,335.6L912.0,335.6M877.5,347.6L882.7,342.4L884.4,342.4L889.6,347.6L891.3,347.6L896.5,342.4L898.2,342.4L903.4,347.6L905.1,347.6L910.3,342.4L912.0,342.4" clip-path="url(#c18)" fill="none" stroke="#000" stroke-width="1.2" stroke-linejoin="round"/>
<rect x="889.61" y="139.75" width="13.30" height="192.75" fill="none" stroke="#000" stroke-width="1.7"/>
<path d="M890.96,88.30H901.46M890.96,188.90H901.46M896.21,88.30V188.90" fill="none" stroke="#000" stroke-width="1.55"/>
<clipPath id="c19"><rect x="936.24" y="127.65" width="13.60" height="204.85"/></clipPath>
<path d="M924.0,116.0L925.8,116.0L930.9,121.1L932.7,121.1L937.8,116.0L939.6,116.0L944.7,121.1L946.5,121.1L951.6,116.0L953.4,116.0L958.5,121.1L960.3,121.1M924.0,122.9L925.8,122.9L930.9,128.0L932.7,128.0L937.8,122.9L939.6,122.9L944.7,128.0L946.5,128.0L951.6,122.9L953.4,122.9L958.5,128.0L960.3,128.0M924.0,129.7L925.8,129.7L930.9,134.9L932.7,134.9L937.8,129.7L939.6,129.7L944.7,134.9L946.5,134.9L951.6,129.7L953.4,129.7L958.5,134.9L960.3,134.9M924.0,136.6L925.8,136.6L930.9,141.7L932.7,141.7L937.8,136.6L939.6,136.6L944.7,141.7L946.5,141.7L951.6,136.6L953.4,136.6L958.5,141.7L960.3,141.7M924.0,143.4L925.8,143.4L930.9,148.6L932.7,148.6L937.8,143.4L939.6,143.4L944.7,148.6L946.5,148.6L951.6,143.4L953.4,143.4L958.5,148.6L960.3,148.6M924.0,150.3L925.8,150.3L930.9,155.5L932.7,155.5L937.8,150.3L939.6,150.3L944.7,155.5L946.5,155.5L951.6,150.3L953.4,150.3L958.5,155.5L960.3,155.5M924.0,157.2L925.8,157.2L930.9,162.3L932.7,162.3L937.8,157.2L939.6,157.2L944.7,162.3L946.5,162.3L951.6,157.2L953.4,157.2L958.5,162.3L960.3,162.3M924.0,164.0L925.8,164.0L930.9,169.2L932.7,169.2L937.8,164.0L939.6,164.0L944.7,169.2L946.5,169.2L951.6,164.0L953.4,164.0L958.5,169.2L960.3,169.2M924.0,170.9L925.8,170.9L930.9,176.0L932.7,176.0L937.8,170.9L939.6,170.9L944.7,176.0L946.5,176.0L951.6,170.9L953.4,170.9L958.5,176.0L960.3,176.0M924.0,177.8L925.8,177.8L930.9,182.9L932.7,182.9L937.8,177.8L939.6,177.8L944.7,182.9L946.5,182.9L951.6,177.8L953.4,177.8L958.5,182.9L960.3,182.9M924.0,184.6L925.8,184.6L930.9,189.8L932.7,189.8L937.8,184.6L939.6,184.6L944.7,189.8L946.5,189.8L951.6,184.6L953.4,184.6L958.5,189.8L960.3,189.8M924.0,191.5L925.8,191.5L930.9,196.6L932.7,196.6L937.8,191.5L939.6,191.5L944.7,196.6L946.5,196.6L951.6,191.5L953.4,191.5L958.5,196.6L960.3,196.6M924.0,198.3L925.8,198.3L930.9,203.5L932.7,203.5L937.8,198.3L939.6,198.3L944.7,203.5L946.5,203.5L951.6,198.3L953.4,198.3L958.5,203.5L960.3,203.5M924.0,205.2L925.8,205.2L930.9,210.4L932.7,210.4L937.8,205.2L939.6,205.2L944.7,210.4L946.5,210.4L951.6,205.2L953.4,205.2L958.5,210.4L960.3,210.4M924.0,212.1L925.8,212.1L930.9,217.2L932.7,217.2L937.8,212.1L939.6,212.1L944.7,217.2L946.5,217.2L951.6,212.1L953.4,212.1L958.5,217.2L960.3,217.2M924.0,218.9L925.8,218.9L930.9,224.1L932.7,224.1L937.8,218.9L939.6,218.9L944.7,224.1L946.5,224.1L951.6,218.9L953.4,218.9L958.5,224.1L960.3,224.1M924.0,225.8L925.8,225.8L930.9,230.9L932.7,230.9L937.8,225.8L939.6,225.8L944.7,230.9L946.5,230.9L951.6,225.8L953.4,225.8L958.5,230.9L960.3,230.9M924.0,232.7L925.8,232.7L930.9,237.8L932.7,237.8L937.8,232.7L939.6,232.7L944.7,237.8L946.5,237.8L951.6,232.7L953.4,232.7L958.5,237.8L960.3,237.8M924.0,239.5L925.8,239.5L930.9,244.7L932.7,244.7L937.8,239.5L939.6,239.5L944.7,244.7L946.5,244.7L951.6,239.5L953.4,239.5L958.5,244.7L960.3,244.7M924.0,246.4L925.8,246.4L930.9,251.5L932.7,251.5L937.8,246.4L939.6,246.4L944.7,251.5L946.5,251.5L951.6,246.4L953.4,246.4L958.5,251.5L960.3,251.5M924.0,253.2L925.8,253.2L930.9,258.4L932.7,258.4L937.8,253.2L939.6,253.2L944.7,258.4L946.5,258.4L951.6,253.2L953.4,253.2L958.5,258.4L960.3,258.4M924.0,260.1L925.8,260.1L930.9,265.2L932.7,265.2L937.8,260.1L939.6,260.1L944.7,265.2L946.5,265.2L951.6,260.1L953.4,260.1L958.5,265.2L960.3,265.2M924.0,267.0L925.8,267.0L930.9,272.1L932.7,272.1L937.8,267.0L939.6,267.0L944.7,272.1L946.5,272.1L951.6,267.0L953.4,267.0L958.5,272.1L960.3,272.1M924.0,273.8L925.8,273.8L930.9,279.0L932.7,279.0L937.8,273.8L939.6,273.8L944.7,279.0L946.5,279.0L951.6,273.8L953.4,273.8L958.5,279.0L960.3,279.0M924.0,280.7L925.8,280.7L930.9,285.8L932.7,285.8L937.8,280.7L939.6,280.7L944.7,285.8L946.5,285.8L951.6,280.7L953.4,280.7L958.5,285.8L960.3,285.8M924.0,287.5L925.8,287.5L930.9,292.7L932.7,292.7L937.8,287.5L939.6,287.5L944.7,292.7L946.5,292.7L951.6,287.5L953.4,287.5L958.5,292.7L960.3,292.7M924.0,294.4L925.8,294.4L930.9,299.6L932.7,299.6L937.8,294.4L939.6,294.4L944.7,299.6L946.5,299.6L951.6,294.4L953.4,294.4L958.5,299.6L960.3,299.6M924.0,301.3L925.8,301.3L930.9,306.4L932.7,306.4L937.8,301.3L939.6,301.3L944.7,306.4L946.5,306.4L951.6,301.3L953.4,301.3L958.5,306.4L960.3,306.4M924.0,308.1L925.8,308.1L930.9,313.3L932.7,313.3L937.8,308.1L939.6,308.1L944.7,313.3L946.5,313.3L951.6,308.1L953.4,308.1L958.5,313.3L960.3,313.3M924.0,315.0L925.8,315.0L930.9,320.1L932.7,320.1L937.8,315.0L939.6,315.0L944.7,320.1L946.5,320.1L951.6,315.0L953.4,315.0L958.5,320.1L960.3,320.1M924.0,321.9L925.8,321.9L930.9,327.0L932.7,327.0L937.8,321.9L939.6,321.9L944.7,327.0L946.5,327.0L951.6,321.9L953.4,321.9L958.5,327.0L960.3,327.0M924.0,328.7L925.8,328.7L930.9,333.9L932.7,333.9L937.8,328.7L939.6,328.7L944.7,333.9L946.5,333.9L951.6,328.7L953.4,328.7L958.5,333.9L960.3,333.9M924.0,335.6L925.8,335.6L930.9,340.7L932.7,340.7L937.8,335.6L939.6,335.6L944.7,340.7L946.5,340.7L951.6,335.6L953.4,335.6L958.5,340.7L960.3,340.7M924.0,342.4L925.8,342.4L930.9,347.6L932.7,347.6L937.8,342.4L939.6,342.4L944.7,347.6L946.5,347.6L951.6,342.4L953.4,342.4L958.5,347.6L960.3,347.6" clip-path="url(#c19)" fill="none" stroke="#000" stroke-width="1.2" stroke-linejoin="round"/>
<rect x="936.24" y="127.65" width="13.60" height="204.85" fill="none" stroke="#000" stroke-width="1.7"/>
<path d="M937.74,74.00H948.24M937.74,179.60H948.24M942.99,74.00V179.60" fill="none" stroke="#000" stroke-width="1.55"/>
<clipPath id="c20"><rect x="982.27" y="114.25" width="13.60" height="218.25"/></clipPath>
<path d="M972.3,107.4L974.0,107.4L979.2,102.3L980.9,102.3L986.1,107.4L987.8,107.4L993.0,102.3L994.7,102.3L999.9,107.4L1001.6,107.4L1006.8,102.3L1008.5,102.3M972.3,114.3L974.0,114.3L979.2,109.1L980.9,109.1L986.1,114.3L987.8,114.3L993.0,109.1L994.7,109.1L999.9,114.3L1001.6,114.3L1006.8,109.1L1008.5,109.1M972.3,121.1L974.0,121.1L979.2,116.0L980.9,116.0L986.1,121.1L987.8,121.1L993.0,116.0L994.7,116.0L999.9,121.1L1001.6,121.1L1006.8,116.0L1008.5,116.0M972.3,128.0L974.0,128.0L979.2,122.9L980.9,122.9L986.1,128.0L987.8,128.0L993.0,122.9L994.7,122.9L999.9,128.0L1001.6,128.0L1006.8,122.9L1008.5,122.9M972.3,134.9L974.0,134.9L979.2,129.7L980.9,129.7L986.1,134.9L987.8,134.9L993.0,129.7L994.7,129.7L999.9,134.9L1001.6,134.9L1006.8,129.7L1008.5,129.7M972.3,141.7L974.0,141.7L979.2,136.6L980.9,136.6L986.1,141.7L987.8,141.7L993.0,136.6L994.7,136.6L999.9,141.7L1001.6,141.7L1006.8,136.6L1008.5,136.6M972.3,148.6L974.0,148.6L979.2,143.4L980.9,143.4L986.1,148.6L987.8,148.6L993.0,143.4L994.7,143.4L999.9,148.6L1001.6,148.6L1006.8,143.4L1008.5,143.4M972.3,155.5L974.0,155.5L979.2,150.3L980.9,150.3L986.1,155.5L987.8,155.5L993.0,150.3L994.7,150.3L999.9,155.5L1001.6,155.5L1006.8,150.3L1008.5,150.3M972.3,162.3L974.0,162.3L979.2,157.2L980.9,157.2L986.1,162.3L987.8,162.3L993.0,157.2L994.7,157.2L999.9,162.3L1001.6,162.3L1006.8,157.2L1008.5,157.2M972.3,169.2L974.0,169.2L979.2,164.0L980.9,164.0L986.1,169.2L987.8,169.2L993.0,164.0L994.7,164.0L999.9,169.2L1001.6,169.2L1006.8,164.0L1008.5,164.0M972.3,176.0L974.0,176.0L979.2,170.9L980.9,170.9L986.1,176.0L987.8,176.0L993.0,170.9L994.7,170.9L999.9,176.0L1001.6,176.0L1006.8,170.9L1008.5,170.9M972.3,182.9L974.0,182.9L979.2,177.8L980.9,177.8L986.1,182.9L987.8,182.9L993.0,177.8L994.7,177.8L999.9,182.9L1001.6,182.9L1006.8,177.8L1008.5,177.8M972.3,189.8L974.0,189.8L979.2,184.6L980.9,184.6L986.1,189.8L987.8,189.8L993.0,184.6L994.7,184.6L999.9,189.8L1001.6,189.8L1006.8,184.6L1008.5,184.6M972.3,196.6L974.0,196.6L979.2,191.5L980.9,191.5L986.1,196.6L987.8,196.6L993.0,191.5L994.7,191.5L999.9,196.6L1001.6,196.6L1006.8,191.5L1008.5,191.5M972.3,203.5L974.0,203.5L979.2,198.3L980.9,198.3L986.1,203.5L987.8,203.5L993.0,198.3L994.7,198.3L999.9,203.5L1001.6,203.5L1006.8,198.3L1008.5,198.3M972.3,210.4L974.0,210.4L979.2,205.2L980.9,205.2L986.1,210.4L987.8,210.4L993.0,205.2L994.7,205.2L999.9,210.4L1001.6,210.4L1006.8,205.2L1008.5,205.2M972.3,217.2L974.0,217.2L979.2,212.1L980.9,212.1L986.1,217.2L987.8,217.2L993.0,212.1L994.7,212.1L999.9,217.2L1001.6,217.2L1006.8,212.1L1008.5,212.1M972.3,224.1L974.0,224.1L979.2,218.9L980.9,218.9L986.1,224.1L987.8,224.1L993.0,218.9L994.7,218.9L999.9,224.1L1001.6,224.1L1006.8,218.9L1008.5,218.9M972.3,230.9L974.0,230.9L979.2,225.8L980.9,225.8L986.1,230.9L987.8,230.9L993.0,225.8L994.7,225.8L999.9,230.9L1001.6,230.9L1006.8,225.8L1008.5,225.8M972.3,237.8L974.0,237.8L979.2,232.7L980.9,232.7L986.1,237.8L987.8,237.8L993.0,232.7L994.7,232.7L999.9,237.8L1001.6,237.8L1006.8,232.7L1008.5,232.7M972.3,244.7L974.0,244.7L979.2,239.5L980.9,239.5L986.1,244.7L987.8,244.7L993.0,239.5L994.7,239.5L999.9,244.7L1001.6,244.7L1006.8,239.5L1008.5,239.5M972.3,251.5L974.0,251.5L979.2,246.4L980.9,246.4L986.1,251.5L987.8,251.5L993.0,246.4L994.7,246.4L999.9,251.5L1001.6,251.5L1006.8,246.4L1008.5,246.4M972.3,258.4L974.0,258.4L979.2,253.2L980.9,253.2L986.1,258.4L987.8,258.4L993.0,253.2L994.7,253.2L999.9,258.4L1001.6,258.4L1006.8,253.2L1008.5,253.2M972.3,265.2L974.0,265.2L979.2,260.1L980.9,260.1L986.1,265.2L987.8,265.2L993.0,260.1L994.7,260.1L999.9,265.2L1001.6,265.2L1006.8,260.1L1008.5,260.1M972.3,272.1L974.0,272.1L979.2,267.0L980.9,267.0L986.1,272.1L987.8,272.1L993.0,267.0L994.7,267.0L999.9,272.1L1001.6,272.1L1006.8,267.0L1008.5,267.0M972.3,279.0L974.0,279.0L979.2,273.8L980.9,273.8L986.1,279.0L987.8,279.0L993.0,273.8L994.7,273.8L999.9,279.0L1001.6,279.0L1006.8,273.8L1008.5,273.8M972.3,285.8L974.0,285.8L979.2,280.7L980.9,280.7L986.1,285.8L987.8,285.8L993.0,280.7L994.7,280.7L999.9,285.8L1001.6,285.8L1006.8,280.7L1008.5,280.7M972.3,292.7L974.0,292.7L979.2,287.5L980.9,287.5L986.1,292.7L987.8,292.7L993.0,287.5L994.7,287.5L999.9,292.7L1001.6,292.7L1006.8,287.5L1008.5,287.5M972.3,299.6L974.0,299.6L979.2,294.4L980.9,294.4L986.1,299.6L987.8,299.6L993.0,294.4L994.7,294.4L999.9,299.6L1001.6,299.6L1006.8,294.4L1008.5,294.4M972.3,306.4L974.0,306.4L979.2,301.3L980.9,301.3L986.1,306.4L987.8,306.4L993.0,301.3L994.7,301.3L999.9,306.4L1001.6,306.4L1006.8,301.3L1008.5,301.3M972.3,313.3L974.0,313.3L979.2,308.1L980.9,308.1L986.1,313.3L987.8,313.3L993.0,308.1L994.7,308.1L999.9,313.3L1001.6,313.3L1006.8,308.1L1008.5,308.1M972.3,320.1L974.0,320.1L979.2,315.0L980.9,315.0L986.1,320.1L987.8,320.1L993.0,315.0L994.7,315.0L999.9,320.1L1001.6,320.1L1006.8,315.0L1008.5,315.0M972.3,327.0L974.0,327.0L979.2,321.9L980.9,321.9L986.1,327.0L987.8,327.0L993.0,321.9L994.7,321.9L999.9,327.0L1001.6,327.0L1006.8,321.9L1008.5,321.9M972.3,333.9L974.0,333.9L979.2,328.7L980.9,328.7L986.1,333.9L987.8,333.9L993.0,328.7L994.7,328.7L999.9,333.9L1001.6,333.9L1006.8,328.7L1008.5,328.7M972.3,340.7L974.0,340.7L979.2,335.6L980.9,335.6L986.1,340.7L987.8,340.7L993.0,335.6L994.7,335.6L999.9,340.7L1001.6,340.7L1006.8,335.6L1008.5,335.6M972.3,347.6L974.0,347.6L979.2,342.4L980.9,342.4L986.1,347.6L987.8,347.6L993.0,342.4L994.7,342.4L999.9,347.6L1001.6,347.6L1006.8,342.4L1008.5,342.4" clip-path="url(#c20)" fill="none" stroke="#000" stroke-width="1.2" stroke-linejoin="round"/>
<rect x="982.27" y="114.25" width="13.60" height="218.25" fill="none" stroke="#000" stroke-width="1.7"/>
<path d="M983.77,51.10H994.27M983.77,175.70H994.27M989.02,51.10V175.70" fill="none" stroke="#000" stroke-width="1.55"/>
<rect x="121.30" y="332.50" width="11.90" height="3.25" fill="#969696" stroke="#000" stroke-width="1.7"/>
<path d="M121.85,332.60H132.35M121.85,340.50H132.35M127.10,332.60V340.50" fill="none" stroke="#000" stroke-width="1.55"/>
<rect x="166.33" y="332.50" width="14.15" height="7.15" fill="#969696" stroke="#000" stroke-width="1.7"/>
<path d="M168.00,334.70H178.50M168.00,345.90H178.50M173.25,334.70V345.90" fill="none" stroke="#000" stroke-width="1.55"/>
<rect x="213.36" y="327.85" width="11.90" height="4.65" fill="#969696" stroke="#000" stroke-width="1.7"/>
<path d="M213.91,322.70H224.41M213.91,331.20H224.41M219.16,322.70V331.20" fill="none" stroke="#000" stroke-width="1.55"/>
<rect x="259.39" y="326.95" width="11.90" height="5.55" fill="#969696" stroke="#000" stroke-width="1.7"/>
<path d="M259.94,318.90H270.44M259.94,332.50H270.44M265.19,318.90V332.50" fill="none" stroke="#000" stroke-width="1.55"/>
<rect x="305.42" y="325.15" width="11.90" height="7.35" fill="#969696" stroke="#000" stroke-width="1.7"/>
<path d="M305.97,316.30H316.47M305.97,332.30H316.47M311.22,316.30V332.30" fill="none" stroke="#000" stroke-width="1.55"/>
<rect x="350.70" y="309.15" width="13.65" height="23.35" fill="#969696" stroke="#000" stroke-width="1.7"/>
<path d="M352.12,299.10H362.62M352.12,317.40H362.62M357.38,299.10V317.40" fill="none" stroke="#000" stroke-width="1.55"/>
<rect x="398.08" y="288.95" width="11.90" height="43.55" fill="#969696" stroke="#000" stroke-width="1.7"/>
<path d="M398.63,273.60H409.13M398.63,302.70H409.13M403.88,273.60V302.70" fill="none" stroke="#000" stroke-width="1.55"/>
<rect x="443.51" y="279.55" width="11.90" height="52.95" fill="#969696" stroke="#000" stroke-width="1.7"/>
<path d="M444.06,263.90H454.56M444.06,293.70H454.56M449.31,263.90V293.70" fill="none" stroke="#000" stroke-width="1.55"/>
<rect x="489.54" y="287.65" width="11.90" height="44.85" fill="#969696" stroke="#000" stroke-width="1.7"/>
<path d="M490.09,269.40H500.59M490.09,304.10H500.59M495.34,269.40V304.10" fill="none" stroke="#000" stroke-width="1.55"/>
<rect x="535.17" y="282.35" width="13.30" height="50.15" fill="#969696" stroke="#000" stroke-width="1.7"/>
<path d="M536.42,267.90H546.92M536.42,296.10H546.92M541.67,267.90V296.10" fill="none" stroke="#000" stroke-width="1.55"/>
<rect x="581.90" y="266.25" width="12.10" height="66.25" fill="#969696" stroke="#000" stroke-width="1.7"/>
<path d="M582.55,249.10H593.05M582.55,282.80H593.05M587.80,249.10V282.80" fill="none" stroke="#000" stroke-width="1.55"/>
<rect x="627.63" y="257.95" width="11.90" height="74.55" fill="#969696" stroke="#000" stroke-width="1.7"/>
<path d="M628.18,240.00H638.68M628.18,276.20H638.68M633.43,240.00V276.20" fill="none" stroke="#000" stroke-width="1.55"/>
<rect x="673.66" y="244.75" width="11.90" height="87.75" fill="#969696" stroke="#000" stroke-width="1.7"/>
<path d="M674.21,221.10H684.71M674.21,266.90H684.71M679.46,221.10V266.90" fill="none" stroke="#000" stroke-width="1.55"/>
<rect x="718.94" y="254.25" width="13.55" height="78.25" fill="#969696" stroke="#000" stroke-width="1.7"/>
<path d="M720.32,232.00H730.82M720.32,274.70H730.82M725.57,232.00V274.70" fill="none" stroke="#000" stroke-width="1.55"/>
<rect x="765.72" y="242.05" width="11.90" height="90.45" fill="#969696" stroke="#000" stroke-width="1.7"/>
<path d="M766.27,218.40H776.77M766.27,265.40H776.77M771.52,218.40V265.40" fill="none" stroke="#000" stroke-width="1.55"/>
<rect x="811.75" y="266.25" width="11.90" height="66.25" fill="#969696" stroke="#000" stroke-width="1.7"/>
<path d="M812.30,250.60H822.80M812.30,280.30H822.80M817.55,250.60V280.30" fill="none" stroke="#000" stroke-width="1.55"/>
<rect x="857.78" y="264.65" width="11.90" height="67.85" fill="#969696" stroke="#000" stroke-width="1.7"/>
<path d="M858.33,246.60H868.83M858.33,281.50H868.83M863.58,246.60V281.50" fill="none" stroke="#000" stroke-width="1.55"/>
<rect x="902.91" y="257.95" width="13.70" height="74.55" fill="#969696" stroke="#000" stroke-width="1.7"/>
<path d="M904.36,237.50H914.86M904.36,276.00H914.86M909.61,237.50V276.00" fill="none" stroke="#000" stroke-width="1.55"/>
<rect x="949.84" y="253.95" width="11.90" height="78.55" fill="#969696" stroke="#000" stroke-width="1.7"/>
<path d="M950.39,233.30H960.89M950.39,273.20H960.89M955.64,233.30V273.20" fill="none" stroke="#000" stroke-width="1.55"/>
<rect x="995.87" y="247.45" width="11.90" height="85.05" fill="#969696" stroke="#000" stroke-width="1.7"/>
<path d="M996.42,225.20H1006.92M996.42,266.70H1006.92M1001.67,225.20V266.70" fill="none" stroke="#000" stroke-width="1.55"/>
<text transform="translate(80.6,18.15) scale(1,1.035)" font-size="21.33" text-anchor="end">14,0</text>
<text transform="translate(80.6,64.09) scale(1,1.035)" font-size="21.33" text-anchor="end">12,0</text>
<text transform="translate(80.6,110.03) scale(1,1.035)" font-size="21.33" text-anchor="end">10,0</text>
<text transform="translate(80.6,155.97) scale(1,1.035)" font-size="21.33" text-anchor="end">8,0</text>
<text transform="translate(80.6,201.91) scale(1,1.035)" font-size="21.33" text-anchor="end">6,0</text>
<text transform="translate(80.6,247.85) scale(1,1.035)" font-size="21.33" text-anchor="end">4,0</text>
<text transform="translate(80.6,293.79) scale(1,1.035)" font-size="21.33" text-anchor="end">2,0</text>
<text transform="translate(80.6,339.73) scale(1,1.035)" font-size="21.33" text-anchor="end">0,0</text>
<text transform="translate(80.6,385.67) scale(1,1.035)" font-size="21.33" text-anchor="end">-2,0</text>
<text transform="translate(121.52,373.1) scale(1,1.035)" font-size="21.33" text-anchor="middle">5</text>
<text transform="translate(166.65,373.1) scale(1,1.035)" font-size="21.33" text-anchor="middle">8</text>
<text transform="translate(212.67,373.1) scale(1,1.035)" font-size="21.33" text-anchor="middle">12</text>
<text transform="translate(258.71,373.1) scale(1,1.035)" font-size="21.33" text-anchor="middle">15</text>
<text transform="translate(304.74,373.1) scale(1,1.035)" font-size="21.33" text-anchor="middle">19</text>
<text transform="translate(350.76,373.1) scale(1,1.035)" font-size="21.33" text-anchor="middle">22</text>
<text transform="translate(396.80,373.1) scale(1,1.035)" font-size="21.33" text-anchor="middle">26</text>
<text transform="translate(442.83,373.1) scale(1,1.035)" font-size="21.33" text-anchor="middle">29</text>
<text transform="translate(488.86,373.1) scale(1,1.035)" font-size="21.33" text-anchor="middle">33</text>
<text transform="translate(534.88,373.1) scale(1,1.035)" font-size="21.33" text-anchor="middle">36</text>
<text transform="translate(580.91,373.1) scale(1,1.035)" font-size="21.33" text-anchor="middle">40</text>
<text transform="translate(626.95,373.1) scale(1,1.035)" font-size="21.33" text-anchor="middle">43</text>
<text transform="translate(672.98,373.1) scale(1,1.035)" font-size="21.33" text-anchor="middle">47</text>
<text transform="translate(719.00,373.1) scale(1,1.035)" font-size="21.33" text-anchor="middle">50</text>
<text transform="translate(765.04,373.1) scale(1,1.035)" font-size="21.33" text-anchor="middle">54</text>
<text transform="translate(811.07,373.1) scale(1,1.035)" font-size="21.33" text-anchor="middle">57</text>
<text transform="translate(857.10,373.1) scale(1,1.035)" font-size="21.33" text-anchor="middle">61</text>
<text transform="translate(903.12,373.1) scale(1,1.035)" font-size="21.33" text-anchor="middle">64</text>
<text transform="translate(949.15,373.1) scale(1,1.035)" font-size="21.33" text-anchor="middle">68</text>
<text transform="translate(995.19,373.1) scale(1,1.035)" font-size="21.33" text-anchor="middle">71</text>
<text transform="translate(581.2,413.9) scale(1,1.035)" font-size="25.6" text-anchor="middle" letter-spacing="0.12">Day after inoculation</text>
<text transform="translate(25.1,356.9) rotate(-90) scale(1,1.035)" font-size="25.6" letter-spacing="0.05">Increase in <tspan dx="-0.5">bode </tspan><tspan dx="-0.6">weight,</tspan><tspan dx="2.0"> g</tspan></text>
<clipPath id="c21"><rect x="215.00" y="25.40" width="17.50" height="17.70"/></clipPath>
<path d="M202.4,23.7L207.6,18.5L209.3,18.5L214.5,23.7L216.2,23.7L221.3,18.5L223.1,18.5L228.2,23.7L230.0,23.7L235.1,18.5L236.9,18.5L242.0,23.7L243.8,23.7M202.4,30.5L207.6,25.4L209.3,25.4L214.5,30.5L216.2,30.5L221.3,25.4L223.1,25.4L228.2,30.5L230.0,30.5L235.1,25.4L236.9,25.4L242.0,30.5L243.8,30.5M202.4,37.4L207.6,32.2L209.3,32.2L214.5,37.4L216.2,37.4L221.3,32.2L223.1,32.2L228.2,37.4L230.0,37.4L235.1,32.2L236.9,32.2L242.0,37.4L243.8,37.4M202.4,44.2L207.6,39.1L209.3,39.1L214.5,44.2L216.2,44.2L221.3,39.1L223.1,39.1L228.2,44.2L230.0,44.2L235.1,39.1L236.9,39.1L242.0,44.2L243.8,44.2M202.4,51.1L207.6,46.0L209.3,46.0L214.5,51.1L216.2,51.1L221.3,46.0L223.1,46.0L228.2,51.1L230.0,51.1L235.1,46.0L236.9,46.0L242.0,51.1L243.8,51.1M202.4,58.0L207.6,52.8L209.3,52.8L214.5,58.0L216.2,58.0L221.3,52.8L223.1,52.8L228.2,58.0L230.0,58.0L235.1,52.8L236.9,52.8L242.0,58.0L243.8,58.0" clip-path="url(#c21)" fill="none" stroke="#000" stroke-width="1.2" stroke-linejoin="round"/>
<rect x="215.00" y="25.40" width="17.50" height="17.70" fill="none" stroke="#000" stroke-width="1.6"/>
<rect x="215.0" y="65.6" width="17.5" height="17.7" fill="#969696" stroke="#000" stroke-width="1.6"/>
<text transform="translate(240.9,44.8) scale(1,1.035)" font-size="28">N<tspan dx="-1.5">G</tspan><tspan dx="-1.5">F</tspan><tspan dx="0.5">,</tspan><tspan dx="1.5"> 8 </tspan><tspan dx="0.7">n</tspan><tspan dx="-0.8">m</tspan><tspan dx="1.2">o</tspan><tspan dx="-0.2">l</tspan><tspan dx="-0.2">/</tspan><tspan dx="0.7">kg</tspan></text>
<text transform="translate(241.2,85.0) scale(1,1.035)" font-size="28">Control</text>
</svg>
</body></html>
